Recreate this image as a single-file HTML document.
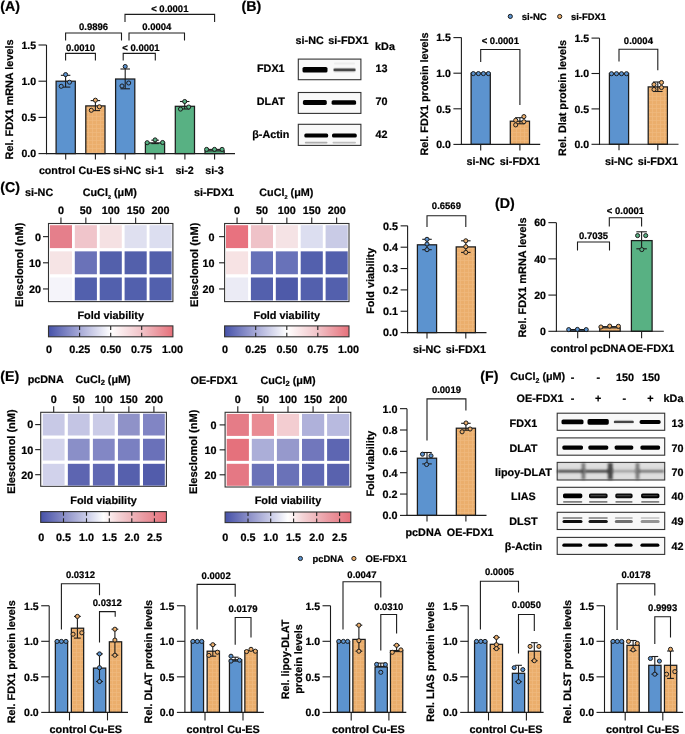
<!DOCTYPE html>
<html><head><meta charset="utf-8"><style>
html,body{margin:0;padding:0;background:#fff;width:685px;height:734px;overflow:hidden}
svg{display:block;font-family:"Liberation Sans",sans-serif;opacity:0.999;text-rendering:geometricPrecision}
text{stroke:#000;stroke-width:0.22px}
</style></head><body>
<svg width="685" height="734" viewBox="0 0 685 734">
<defs>
<pattern id="hatch" width="4" height="4" patternUnits="userSpaceOnUse">
<rect width="4" height="4" fill="#ebae6c"/>
<path d="M0 0.5H4M0.5 0V4" stroke="#efb97e" stroke-width="0.7"/>
</pattern>
<filter id="blur0" x="-20%" y="-100%" width="140%" height="300%"><feGaussianBlur stdDeviation="0.4"/></filter>
<filter id="blur1" x="-20%" y="-60%" width="140%" height="220%"><feGaussianBlur stdDeviation="0.6"/></filter>
<filter id="blur2" x="-20%" y="-50%" width="140%" height="200%"><feGaussianBlur stdDeviation="1.2"/></filter>
<linearGradient id="g1" x1="0" x2="1" y1="0" y2="0"><stop offset="0" stop-color="#4652a9"/><stop offset="0.25" stop-color="#a6a9d7"/><stop offset="0.5" stop-color="#ffffff"/><stop offset="0.75" stop-color="#f1c3c8"/><stop offset="1" stop-color="#e6707a"/></linearGradient><linearGradient id="g2" x1="0" x2="1" y1="0" y2="0"><stop offset="0" stop-color="#4652a9"/><stop offset="0.25" stop-color="#a6a9d7"/><stop offset="0.5" stop-color="#ffffff"/><stop offset="0.75" stop-color="#f1c3c8"/><stop offset="1" stop-color="#e6707a"/></linearGradient><linearGradient id="g3" x1="0" x2="1" y1="0" y2="0"><stop offset="0" stop-color="#4651a8"/><stop offset="0.2" stop-color="#8f93c9"/><stop offset="0.38" stop-color="#cfd1ea"/><stop offset="0.5" stop-color="#ffffff"/><stop offset="0.62" stop-color="#f4d3d6"/><stop offset="0.82" stop-color="#ea9aa2"/><stop offset="1" stop-color="#e6707a"/></linearGradient><linearGradient id="g4" x1="0" x2="1" y1="0" y2="0"><stop offset="0" stop-color="#4651a8"/><stop offset="0.2" stop-color="#8f93c9"/><stop offset="0.38" stop-color="#cfd1ea"/><stop offset="0.5" stop-color="#ffffff"/><stop offset="0.62" stop-color="#f4d3d6"/><stop offset="0.82" stop-color="#ea9aa2"/><stop offset="1" stop-color="#e6707a"/></linearGradient></defs>
<text x="0.2" y="11.11" font-size="14.2" text-anchor="start" font-weight="bold" fill="#000">(A)</text>
<line x1="46.5" y1="45" x2="46.5" y2="154.15" stroke="#1c1c1c" stroke-width="1.1"/>
<line x1="38.5" y1="45" x2="46.5" y2="45" stroke="#1c1c1c" stroke-width="1.1"/>
<text x="36" y="48.78" font-size="10.5" text-anchor="end" font-weight="bold" fill="#000">1.5</text>
<line x1="38.5" y1="81.2" x2="46.5" y2="81.2" stroke="#1c1c1c" stroke-width="1.1"/>
<text x="36" y="84.98" font-size="10.5" text-anchor="end" font-weight="bold" fill="#000">1.0</text>
<line x1="38.5" y1="117.4" x2="46.5" y2="117.4" stroke="#1c1c1c" stroke-width="1.1"/>
<text x="36" y="121.18" font-size="10.5" text-anchor="end" font-weight="bold" fill="#000">0.5</text>
<line x1="38.5" y1="153.6" x2="46.5" y2="153.6" stroke="#1c1c1c" stroke-width="1.1"/>
<text x="36" y="157.38" font-size="10.5" text-anchor="end" font-weight="bold" fill="#000">0.0</text>
<text transform="translate(8.9,99.4) rotate(-90)" x="0" y="3.92" font-size="10.9" text-anchor="middle" font-weight="bold" fill="#000">Rel. FDX1 mRNA levels</text>
<rect x="56.1" y="81.2" width="19.2" height="72.4" fill="#5c93cf" stroke="#1c1c1c" stroke-width="1.25"/>
<rect x="85.8" y="105.9" width="19.2" height="47.7" fill="url(#hatch)" stroke="#1c1c1c" stroke-width="1.25"/>
<rect x="115.6" y="79" width="19.2" height="74.6" fill="#5c93cf" stroke="#1c1c1c" stroke-width="1.25"/>
<rect x="145.4" y="142.9" width="19.2" height="10.7" fill="#58b183" stroke="#1c1c1c" stroke-width="1.25"/>
<rect x="175.3" y="106.3" width="19.2" height="47.3" fill="#58b183" stroke="#1c1c1c" stroke-width="1.25"/>
<rect x="205" y="150.8" width="19.2" height="2.8" fill="#58b183" stroke="#1c1c1c" stroke-width="1.25"/>
<line x1="45.95" y1="153.6" x2="235" y2="153.6" stroke="#1c1c1c" stroke-width="1.1"/>
<line x1="65.7" y1="153.6" x2="65.7" y2="159.6" stroke="#1c1c1c" stroke-width="1.1"/>
<line x1="95.4" y1="153.6" x2="95.4" y2="159.6" stroke="#1c1c1c" stroke-width="1.1"/>
<line x1="125.2" y1="153.6" x2="125.2" y2="159.6" stroke="#1c1c1c" stroke-width="1.1"/>
<line x1="155" y1="153.6" x2="155" y2="159.6" stroke="#1c1c1c" stroke-width="1.1"/>
<line x1="184.9" y1="153.6" x2="184.9" y2="159.6" stroke="#1c1c1c" stroke-width="1.1"/>
<line x1="214.6" y1="153.6" x2="214.6" y2="159.6" stroke="#1c1c1c" stroke-width="1.1"/>
<text x="57" y="173.85" font-size="10.7" text-anchor="middle" font-weight="bold" fill="#000">control</text>
<text x="94.6" y="173.85" font-size="10.7" text-anchor="middle" font-weight="bold" fill="#000">Cu-ES</text>
<text x="127.3" y="173.85" font-size="10.7" text-anchor="middle" font-weight="bold" fill="#000">si-NC</text>
<text x="154.4" y="173.85" font-size="10.7" text-anchor="middle" font-weight="bold" fill="#000">si-1</text>
<text x="184.6" y="173.85" font-size="10.7" text-anchor="middle" font-weight="bold" fill="#000">si-2</text>
<text x="214.5" y="173.85" font-size="10.7" text-anchor="middle" font-weight="bold" fill="#000">si-3</text>
<line x1="65.6" y1="75.3" x2="65.6" y2="87.1" stroke="#1c1c1c" stroke-width="1.1"/>
<line x1="60.85" y1="75.3" x2="70.35" y2="75.3" stroke="#1c1c1c" stroke-width="1.1"/>
<line x1="60.85" y1="87.1" x2="70.35" y2="87.1" stroke="#1c1c1c" stroke-width="1.1"/>
<circle cx="65.6" cy="74.6" r="2.05" fill="#5c93cf" stroke="#1c1c1c" stroke-width="1"/>
<circle cx="69.5" cy="82.2" r="2.05" fill="#5c93cf" stroke="#1c1c1c" stroke-width="1"/>
<circle cx="61.2" cy="86.3" r="2.05" fill="#5c93cf" stroke="#1c1c1c" stroke-width="1"/>
<line x1="95.4" y1="100.6" x2="95.4" y2="110.6" stroke="#1c1c1c" stroke-width="1.1"/>
<line x1="90.65" y1="100.6" x2="100.15" y2="100.6" stroke="#1c1c1c" stroke-width="1.1"/>
<line x1="90.65" y1="110.6" x2="100.15" y2="110.6" stroke="#1c1c1c" stroke-width="1.1"/>
<circle cx="95.4" cy="100.2" r="2.05" fill="#ebae6c" stroke="#1c1c1c" stroke-width="1"/>
<circle cx="99.4" cy="106.8" r="2.05" fill="#ebae6c" stroke="#1c1c1c" stroke-width="1"/>
<circle cx="91.3" cy="110.3" r="2.05" fill="#ebae6c" stroke="#1c1c1c" stroke-width="1"/>
<line x1="125.2" y1="69" x2="125.2" y2="88.8" stroke="#1c1c1c" stroke-width="1.1"/>
<line x1="120.45" y1="69" x2="129.95" y2="69" stroke="#1c1c1c" stroke-width="1.1"/>
<line x1="120.45" y1="88.8" x2="129.95" y2="88.8" stroke="#1c1c1c" stroke-width="1.1"/>
<circle cx="125.2" cy="66.5" r="2.05" fill="#5c93cf" stroke="#1c1c1c" stroke-width="1"/>
<circle cx="128.7" cy="83" r="2.05" fill="#5c93cf" stroke="#1c1c1c" stroke-width="1"/>
<circle cx="122" cy="86" r="2.05" fill="#5c93cf" stroke="#1c1c1c" stroke-width="1"/>
<line x1="155.1" y1="140.2" x2="155.1" y2="143.6" stroke="#1c1c1c" stroke-width="1.1"/>
<line x1="151.35" y1="140.2" x2="158.85" y2="140.2" stroke="#1c1c1c" stroke-width="1.1"/>
<line x1="151.35" y1="143.6" x2="158.85" y2="143.6" stroke="#1c1c1c" stroke-width="1.1"/>
<circle cx="155.1" cy="139.9" r="2.05" fill="#58b183" stroke="#1c1c1c" stroke-width="1"/>
<circle cx="162.6" cy="142.5" r="2.05" fill="#58b183" stroke="#1c1c1c" stroke-width="1"/>
<circle cx="147.2" cy="142.7" r="2.05" fill="#58b183" stroke="#1c1c1c" stroke-width="1"/>
<line x1="184.7" y1="101.5" x2="184.7" y2="109" stroke="#1c1c1c" stroke-width="1.1"/>
<line x1="179.95" y1="101.5" x2="189.45" y2="101.5" stroke="#1c1c1c" stroke-width="1.1"/>
<line x1="179.95" y1="109" x2="189.45" y2="109" stroke="#1c1c1c" stroke-width="1.1"/>
<circle cx="184.7" cy="101.5" r="2.05" fill="#58b183" stroke="#1c1c1c" stroke-width="1"/>
<circle cx="180.5" cy="109.1" r="2.05" fill="#58b183" stroke="#1c1c1c" stroke-width="1"/>
<circle cx="188.7" cy="107" r="2.05" fill="#58b183" stroke="#1c1c1c" stroke-width="1"/>
<line x1="206.6" y1="149.4" x2="222.1" y2="149.4" stroke="#1c1c1c" stroke-width="1.1"/>
<circle cx="206.6" cy="149.4" r="2.05" fill="#58b183" stroke="#1c1c1c" stroke-width="1"/>
<circle cx="214.5" cy="149.4" r="2.05" fill="#58b183" stroke="#1c1c1c" stroke-width="1"/>
<circle cx="222.1" cy="149.4" r="2.05" fill="#58b183" stroke="#1c1c1c" stroke-width="1"/>
<path d="M65.6 60.4 V53.4 H95.4 V60.4" stroke="#1c1c1c" stroke-width="1.1" fill="none"/>
<text x="80.5" y="50.72" font-size="9.5" text-anchor="middle" font-weight="bold" fill="#000">0.0010</text>
<path d="M65.6 40.6 V33 H121.5 V40.6" stroke="#1c1c1c" stroke-width="1.1" fill="none"/>
<text x="93.55" y="30.32" font-size="9.5" text-anchor="middle" font-weight="bold" fill="#000">0.9896</text>
<path d="M123.2 60.4 V53.4 H155.3 V60.4" stroke="#1c1c1c" stroke-width="1.1" fill="none"/>
<text x="140.9" y="50.72" font-size="9.5" text-anchor="middle" font-weight="bold" fill="#000">&lt; 0.0001</text>
<path d="M129 40.6 V33 H184.5 V40.6" stroke="#1c1c1c" stroke-width="1.1" fill="none"/>
<text x="156.75" y="30.32" font-size="9.5" text-anchor="middle" font-weight="bold" fill="#000">0.0004</text>
<path d="M125 22 V14.4 H214.6 V22" stroke="#1c1c1c" stroke-width="1.1" fill="none"/>
<text x="169.8" y="11.62" font-size="9.5" text-anchor="middle" font-weight="bold" fill="#000">&lt; 0.0001</text>
<text x="241.6" y="11.31" font-size="14.2" text-anchor="start" font-weight="bold" fill="#000">(B)</text>
<text x="309.7" y="44.39" font-size="10.8" text-anchor="middle" font-weight="bold" fill="#000">si-NC</text>
<text x="348.4" y="44.39" font-size="10.8" text-anchor="middle" font-weight="bold" fill="#000">si-FDX1</text>
<text x="385" y="50.49" font-size="10.8" text-anchor="middle" font-weight="bold" fill="#000">kDa</text>
<text x="270.8" y="72.39" font-size="10.8" text-anchor="middle" font-weight="bold" fill="#000">FDX1</text>
<text x="381.6" y="72.39" font-size="10.8" text-anchor="middle" font-weight="bold" fill="#000">13</text>
<text x="270.8" y="104.89" font-size="10.8" text-anchor="middle" font-weight="bold" fill="#000">DLAT</text>
<text x="381.6" y="104.89" font-size="10.8" text-anchor="middle" font-weight="bold" fill="#000">70</text>
<text x="270.8" y="137.99" font-size="10.8" text-anchor="middle" font-weight="bold" fill="#000">&#946;-Actin</text>
<text x="381.6" y="137.99" font-size="10.8" text-anchor="middle" font-weight="bold" fill="#000">42</text>
<rect x="298.3" y="59.1" width="62.6" height="20.6" fill="#f9f9f9" stroke="#333" stroke-width="1.1"/>
<rect x="302.5" y="67" width="25" height="5.6" rx="1.6" fill="#000" opacity="1" filter="url(#blur1)"/>
<rect x="333" y="67.4" width="23" height="5" rx="1.6" fill="#666" opacity="0.18" filter="url(#blur1)"/>
<rect x="333.5" y="68.6" width="22.1" height="2.6" rx="1.3" fill="#222" opacity="0.8" filter="url(#blur1)"/>
<rect x="334" y="62.5" width="21" height="2" rx="1" fill="#999" opacity="0.12" filter="url(#blur1)"/>
<rect x="298.3" y="92.5" width="62.6" height="20.9" fill="#f9f9f9" stroke="#333" stroke-width="1.1"/>
<rect x="302.9" y="100.1" width="23.9" height="4.8" rx="1.6" fill="#000" opacity="1" filter="url(#blur1)"/>
<rect x="331.6" y="100.2" width="24.5" height="4.6" rx="1.6" fill="#000" opacity="1" filter="url(#blur1)"/>
<rect x="298.3" y="124.3" width="62.6" height="21.1" fill="#f9f9f9" stroke="#333" stroke-width="1.1"/>
<rect x="304.3" y="133.6" width="23.9" height="4" rx="1.6" fill="#000" opacity="1" filter="url(#blur1)"/>
<rect x="332" y="133.6" width="24.8" height="4" rx="1.6" fill="#000" opacity="1" filter="url(#blur1)"/>
<rect x="304.8" y="141.7" width="22.7" height="1.8" rx="0.9" fill="#555" opacity="0.45" filter="url(#blur1)"/>
<rect x="332.5" y="141.7" width="23.5" height="1.8" rx="0.9" fill="#555" opacity="0.35" filter="url(#blur1)"/>
<circle cx="510.3" cy="16.4" r="2.1" fill="#5c93cf" stroke="#1c1c1c" stroke-width="1"/>
<text x="521.7" y="19.86" font-size="9.6" text-anchor="start" font-weight="bold" fill="#000">si-NC</text>
<circle cx="559.7" cy="16.5" r="2.1" fill="#ebae6c" stroke="#1c1c1c" stroke-width="1"/>
<text x="571" y="19.88" font-size="9.4" text-anchor="start" font-weight="bold" fill="#000">si-FDX1</text>
<line x1="461.4" y1="37.6" x2="461.4" y2="144.95" stroke="#1c1c1c" stroke-width="1.1"/>
<line x1="453.4" y1="37.6" x2="461.4" y2="37.6" stroke="#1c1c1c" stroke-width="1.1"/>
<text x="450.9" y="41.38" font-size="10.5" text-anchor="end" font-weight="bold" fill="#000">1.5</text>
<line x1="453.4" y1="73.2" x2="461.4" y2="73.2" stroke="#1c1c1c" stroke-width="1.1"/>
<text x="450.9" y="76.98" font-size="10.5" text-anchor="end" font-weight="bold" fill="#000">1.0</text>
<line x1="453.4" y1="108.8" x2="461.4" y2="108.8" stroke="#1c1c1c" stroke-width="1.1"/>
<text x="450.9" y="112.58" font-size="10.5" text-anchor="end" font-weight="bold" fill="#000">0.5</text>
<line x1="453.4" y1="144.4" x2="461.4" y2="144.4" stroke="#1c1c1c" stroke-width="1.1"/>
<text x="450.9" y="148.18" font-size="10.5" text-anchor="end" font-weight="bold" fill="#000">0.0</text>
<text transform="translate(423.8,94) rotate(-90)" x="0" y="3.89" font-size="10.8" text-anchor="middle" font-weight="bold" fill="#000">Rel. FDX1 protein levels</text>
<rect x="471.1" y="73.2" width="19.2" height="71.2" fill="#5c93cf" stroke="#1c1c1c" stroke-width="1.25"/>
<rect x="510.3" y="121.2" width="19.2" height="23.2" fill="url(#hatch)" stroke="#1c1c1c" stroke-width="1.25"/>
<line x1="460.85" y1="144.4" x2="540.2" y2="144.4" stroke="#1c1c1c" stroke-width="1.1"/>
<line x1="480.7" y1="144.4" x2="480.7" y2="150.4" stroke="#1c1c1c" stroke-width="1.1"/>
<line x1="519.9" y1="144.4" x2="519.9" y2="150.4" stroke="#1c1c1c" stroke-width="1.1"/>
<text x="480.7" y="164.89" font-size="10.8" text-anchor="middle" font-weight="bold" fill="#000">si-NC</text>
<text x="519.9" y="164.89" font-size="10.8" text-anchor="middle" font-weight="bold" fill="#000">si-FDX1</text>
<circle cx="473.3" cy="73.6" r="2.05" fill="#5c93cf" stroke="#1c1c1c" stroke-width="1"/>
<circle cx="478.4" cy="73.6" r="2.05" fill="#5c93cf" stroke="#1c1c1c" stroke-width="1"/>
<circle cx="483.4" cy="73.6" r="2.05" fill="#5c93cf" stroke="#1c1c1c" stroke-width="1"/>
<circle cx="488.4" cy="73.6" r="2.05" fill="#5c93cf" stroke="#1c1c1c" stroke-width="1"/>
<line x1="519.9" y1="117.7" x2="519.9" y2="123.8" stroke="#1c1c1c" stroke-width="1.1"/>
<line x1="515.15" y1="117.7" x2="524.65" y2="117.7" stroke="#1c1c1c" stroke-width="1.1"/>
<line x1="515.15" y1="123.8" x2="524.65" y2="123.8" stroke="#1c1c1c" stroke-width="1.1"/>
<circle cx="515.7" cy="120.3" r="2.05" fill="#ebae6c" stroke="#1c1c1c" stroke-width="1"/>
<circle cx="515.7" cy="124.9" r="2.05" fill="#ebae6c" stroke="#1c1c1c" stroke-width="1"/>
<circle cx="523.9" cy="116.6" r="2.05" fill="#ebae6c" stroke="#1c1c1c" stroke-width="1"/>
<circle cx="523.9" cy="121.7" r="2.05" fill="#ebae6c" stroke="#1c1c1c" stroke-width="1"/>
<path d="M480.7 61.9 V49.5 H519.9 V105.1" stroke="#1c1c1c" stroke-width="1.1" fill="none"/>
<text x="500.3" y="44.32" font-size="9.5" text-anchor="middle" font-weight="bold" fill="#000">&lt; 0.0001</text>
<line x1="599.5" y1="38.1" x2="599.5" y2="144.85" stroke="#1c1c1c" stroke-width="1.1"/>
<line x1="591.5" y1="38.1" x2="599.5" y2="38.1" stroke="#1c1c1c" stroke-width="1.1"/>
<text x="589" y="41.88" font-size="10.5" text-anchor="end" font-weight="bold" fill="#000">1.5</text>
<line x1="591.5" y1="73.5" x2="599.5" y2="73.5" stroke="#1c1c1c" stroke-width="1.1"/>
<text x="589" y="77.28" font-size="10.5" text-anchor="end" font-weight="bold" fill="#000">1.0</text>
<line x1="591.5" y1="108.9" x2="599.5" y2="108.9" stroke="#1c1c1c" stroke-width="1.1"/>
<text x="589" y="112.68" font-size="10.5" text-anchor="end" font-weight="bold" fill="#000">0.5</text>
<line x1="591.5" y1="144.3" x2="599.5" y2="144.3" stroke="#1c1c1c" stroke-width="1.1"/>
<text x="589" y="148.08" font-size="10.5" text-anchor="end" font-weight="bold" fill="#000">0.0</text>
<text transform="translate(562.5,98) rotate(-90)" x="0" y="3.89" font-size="10.8" text-anchor="middle" font-weight="bold" fill="#000">Rel. Dlat protein levels</text>
<rect x="609.4" y="73.5" width="19.2" height="70.8" fill="#5c93cf" stroke="#1c1c1c" stroke-width="1.25"/>
<rect x="648.2" y="86.9" width="19.2" height="57.4" fill="url(#hatch)" stroke="#1c1c1c" stroke-width="1.25"/>
<line x1="598.95" y1="144.3" x2="678.5" y2="144.3" stroke="#1c1c1c" stroke-width="1.1"/>
<line x1="619" y1="144.3" x2="619" y2="150.3" stroke="#1c1c1c" stroke-width="1.1"/>
<line x1="657.8" y1="144.3" x2="657.8" y2="150.3" stroke="#1c1c1c" stroke-width="1.1"/>
<text x="619" y="164.89" font-size="10.8" text-anchor="middle" font-weight="bold" fill="#000">si-NC</text>
<text x="657.8" y="164.89" font-size="10.8" text-anchor="middle" font-weight="bold" fill="#000">si-FDX1</text>
<circle cx="611.5" cy="73.7" r="2.05" fill="#5c93cf" stroke="#1c1c1c" stroke-width="1"/>
<circle cx="616.5" cy="73.7" r="2.05" fill="#5c93cf" stroke="#1c1c1c" stroke-width="1"/>
<circle cx="621.5" cy="73.7" r="2.05" fill="#5c93cf" stroke="#1c1c1c" stroke-width="1"/>
<circle cx="626.5" cy="73.7" r="2.05" fill="#5c93cf" stroke="#1c1c1c" stroke-width="1"/>
<line x1="657.8" y1="82" x2="657.8" y2="91.5" stroke="#1c1c1c" stroke-width="1.1"/>
<line x1="653.05" y1="82" x2="662.55" y2="82" stroke="#1c1c1c" stroke-width="1.1"/>
<line x1="653.05" y1="91.5" x2="662.55" y2="91.5" stroke="#1c1c1c" stroke-width="1.1"/>
<circle cx="654" cy="84.5" r="2.05" fill="#ebae6c" stroke="#1c1c1c" stroke-width="1"/>
<circle cx="654" cy="89.5" r="2.05" fill="#ebae6c" stroke="#1c1c1c" stroke-width="1"/>
<circle cx="661.5" cy="82.5" r="2.05" fill="#ebae6c" stroke="#1c1c1c" stroke-width="1"/>
<circle cx="661.5" cy="87.5" r="2.05" fill="#ebae6c" stroke="#1c1c1c" stroke-width="1"/>
<path d="M619 61.4 V49.3 H657.8 V70.2" stroke="#1c1c1c" stroke-width="1.1" fill="none"/>
<text x="638.4" y="44.42" font-size="9.5" text-anchor="middle" font-weight="bold" fill="#000">0.0004</text>
<text x="0.3" y="191.61" font-size="14.2" text-anchor="start" font-weight="bold" fill="#000">(C)</text>
<text x="39.1" y="196.19" font-size="10.8" text-anchor="middle" font-weight="bold" fill="#000">si-NC</text>
<text x="82.7" y="196.19" font-size="10.8" text-anchor="start" font-weight="bold" fill="#000">CuCl<tspan font-size="5.5" dy="2.5">2</tspan><tspan dy="-2.5"> (&#956;M)</tspan></text>
<rect x="48.5" y="223.5" width="124.4" height="78.1" fill="#fff" stroke="#333" stroke-width="1.1"/>
<rect x="49.9" y="225.2" width="22.1" height="22.9" fill="#e57f8b" stroke="none" stroke-width="0"/>
<rect x="74.8" y="225.2" width="22.1" height="22.9" fill="#f0c5cb" stroke="none" stroke-width="0"/>
<rect x="99.7" y="225.2" width="22.1" height="22.9" fill="#f5e1e3" stroke="none" stroke-width="0"/>
<rect x="124.6" y="225.2" width="22.1" height="22.9" fill="#dfe0f0" stroke="none" stroke-width="0"/>
<rect x="149.5" y="225.2" width="22.1" height="22.9" fill="#dcdef0" stroke="none" stroke-width="0"/>
<rect x="49.9" y="251.35" width="22.1" height="22.9" fill="#f6e4e5" stroke="none" stroke-width="0"/>
<rect x="74.8" y="251.35" width="22.1" height="22.9" fill="#6a72b8" stroke="none" stroke-width="0"/>
<rect x="99.7" y="251.35" width="22.1" height="22.9" fill="#5360ab" stroke="none" stroke-width="0"/>
<rect x="124.6" y="251.35" width="22.1" height="22.9" fill="#5360ab" stroke="none" stroke-width="0"/>
<rect x="149.5" y="251.35" width="22.1" height="22.9" fill="#5360ab" stroke="none" stroke-width="0"/>
<rect x="49.9" y="277.5" width="22.1" height="22.9" fill="#f5f4fa" stroke="none" stroke-width="0"/>
<rect x="74.8" y="277.5" width="22.1" height="22.9" fill="#5260ad" stroke="none" stroke-width="0"/>
<rect x="99.7" y="277.5" width="22.1" height="22.9" fill="#5260ad" stroke="none" stroke-width="0"/>
<rect x="124.6" y="277.5" width="22.1" height="22.9" fill="#5260ad" stroke="none" stroke-width="0"/>
<rect x="149.5" y="277.5" width="22.1" height="22.9" fill="#5260ad" stroke="none" stroke-width="0"/>
<line x1="60.95" y1="217.5" x2="60.95" y2="223.5" stroke="#1c1c1c" stroke-width="1.1"/>
<text x="60.95" y="214.09" font-size="10.8" text-anchor="middle" font-weight="bold" fill="#000">0</text>
<line x1="85.85" y1="217.5" x2="85.85" y2="223.5" stroke="#1c1c1c" stroke-width="1.1"/>
<text x="85.85" y="214.09" font-size="10.8" text-anchor="middle" font-weight="bold" fill="#000">50</text>
<line x1="110.75" y1="217.5" x2="110.75" y2="223.5" stroke="#1c1c1c" stroke-width="1.1"/>
<text x="110.75" y="214.09" font-size="10.8" text-anchor="middle" font-weight="bold" fill="#000">100</text>
<line x1="135.65" y1="217.5" x2="135.65" y2="223.5" stroke="#1c1c1c" stroke-width="1.1"/>
<text x="135.65" y="214.09" font-size="10.8" text-anchor="middle" font-weight="bold" fill="#000">150</text>
<line x1="160.55" y1="217.5" x2="160.55" y2="223.5" stroke="#1c1c1c" stroke-width="1.1"/>
<text x="160.55" y="214.09" font-size="10.8" text-anchor="middle" font-weight="bold" fill="#000">200</text>
<line x1="43" y1="236.65" x2="48.5" y2="236.65" stroke="#1c1c1c" stroke-width="1.1"/>
<text x="41" y="240.54" font-size="10.8" text-anchor="end" font-weight="bold" fill="#000">0</text>
<line x1="43" y1="262.8" x2="48.5" y2="262.8" stroke="#1c1c1c" stroke-width="1.1"/>
<text x="41" y="266.69" font-size="10.8" text-anchor="end" font-weight="bold" fill="#000">10</text>
<line x1="43" y1="288.95" x2="48.5" y2="288.95" stroke="#1c1c1c" stroke-width="1.1"/>
<text x="41" y="292.84" font-size="10.8" text-anchor="end" font-weight="bold" fill="#000">20</text>
<text transform="translate(19.4,264.75) rotate(-90)" x="0" y="3.96" font-size="11" text-anchor="middle" font-weight="bold" fill="#000">Elesclomol (nM)</text>
<text x="110.7" y="319.42" font-size="10.9" text-anchor="middle" font-weight="bold" fill="#000">Fold viability</text>
<rect x="48.5" y="325.9" width="124.4" height="10.9" fill="url(#g1)" stroke="#333" stroke-width="1.1"/>
<line x1="79.6" y1="325.9" x2="79.6" y2="336.8" stroke="#222" stroke-width="1.1" stroke-dasharray="4.14 2.62"/>
<line x1="110.7" y1="325.9" x2="110.7" y2="336.8" stroke="#222" stroke-width="1.1" stroke-dasharray="4.14 2.62"/>
<line x1="141.7" y1="325.9" x2="141.7" y2="336.8" stroke="#222" stroke-width="1.1" stroke-dasharray="4.14 2.62"/>
<text x="49" y="353.29" font-size="10.8" text-anchor="middle" font-weight="bold" fill="#000">0</text>
<text x="79.7" y="353.29" font-size="10.8" text-anchor="middle" font-weight="bold" fill="#000">0.25</text>
<text x="110.8" y="353.29" font-size="10.8" text-anchor="middle" font-weight="bold" fill="#000">0.50</text>
<text x="141.6" y="353.29" font-size="10.8" text-anchor="middle" font-weight="bold" fill="#000">0.75</text>
<text x="172.4" y="353.29" font-size="10.8" text-anchor="middle" font-weight="bold" fill="#000">1.00</text>
<text x="214" y="196.19" font-size="10.8" text-anchor="middle" font-weight="bold" fill="#000">si-FDX1</text>
<text x="259.3" y="196.19" font-size="10.8" text-anchor="start" font-weight="bold" fill="#000">CuCl<tspan font-size="5.5" dy="2.5">2</tspan><tspan dy="-2.5"> (&#956;M)</tspan></text>
<rect x="224.6" y="223.5" width="124.4" height="78.1" fill="#fff" stroke="#333" stroke-width="1.1"/>
<rect x="226" y="225.2" width="22.1" height="22.9" fill="#e8727f" stroke="none" stroke-width="0"/>
<rect x="250.9" y="225.2" width="22.1" height="22.9" fill="#efc2c8" stroke="none" stroke-width="0"/>
<rect x="275.8" y="225.2" width="22.1" height="22.9" fill="#f5e3e5" stroke="none" stroke-width="0"/>
<rect x="300.7" y="225.2" width="22.1" height="22.9" fill="#dcdef0" stroke="none" stroke-width="0"/>
<rect x="325.6" y="225.2" width="22.1" height="22.9" fill="#c9cbe6" stroke="none" stroke-width="0"/>
<rect x="226" y="251.35" width="22.1" height="22.9" fill="#f7e3e4" stroke="none" stroke-width="0"/>
<rect x="250.9" y="251.35" width="22.1" height="22.9" fill="#6570b8" stroke="none" stroke-width="0"/>
<rect x="275.8" y="251.35" width="22.1" height="22.9" fill="#6872b9" stroke="none" stroke-width="0"/>
<rect x="300.7" y="251.35" width="22.1" height="22.9" fill="#5360ad" stroke="none" stroke-width="0"/>
<rect x="325.6" y="251.35" width="22.1" height="22.9" fill="#5360ad" stroke="none" stroke-width="0"/>
<rect x="226" y="277.5" width="22.1" height="22.9" fill="#ebebf5" stroke="none" stroke-width="0"/>
<rect x="250.9" y="277.5" width="22.1" height="22.9" fill="#5360ad" stroke="none" stroke-width="0"/>
<rect x="275.8" y="277.5" width="22.1" height="22.9" fill="#4e5aa9" stroke="none" stroke-width="0"/>
<rect x="300.7" y="277.5" width="22.1" height="22.9" fill="#5360ad" stroke="none" stroke-width="0"/>
<rect x="325.6" y="277.5" width="22.1" height="22.9" fill="#5360ad" stroke="none" stroke-width="0"/>
<line x1="237.05" y1="217.5" x2="237.05" y2="223.5" stroke="#1c1c1c" stroke-width="1.1"/>
<text x="237.05" y="214.09" font-size="10.8" text-anchor="middle" font-weight="bold" fill="#000">0</text>
<line x1="261.95" y1="217.5" x2="261.95" y2="223.5" stroke="#1c1c1c" stroke-width="1.1"/>
<text x="261.95" y="214.09" font-size="10.8" text-anchor="middle" font-weight="bold" fill="#000">50</text>
<line x1="286.85" y1="217.5" x2="286.85" y2="223.5" stroke="#1c1c1c" stroke-width="1.1"/>
<text x="286.85" y="214.09" font-size="10.8" text-anchor="middle" font-weight="bold" fill="#000">100</text>
<line x1="311.75" y1="217.5" x2="311.75" y2="223.5" stroke="#1c1c1c" stroke-width="1.1"/>
<text x="311.75" y="214.09" font-size="10.8" text-anchor="middle" font-weight="bold" fill="#000">150</text>
<line x1="336.65" y1="217.5" x2="336.65" y2="223.5" stroke="#1c1c1c" stroke-width="1.1"/>
<text x="336.65" y="214.09" font-size="10.8" text-anchor="middle" font-weight="bold" fill="#000">200</text>
<line x1="219.1" y1="236.65" x2="224.6" y2="236.65" stroke="#1c1c1c" stroke-width="1.1"/>
<text x="214.4" y="240.54" font-size="10.8" text-anchor="end" font-weight="bold" fill="#000">0</text>
<line x1="219.1" y1="262.8" x2="224.6" y2="262.8" stroke="#1c1c1c" stroke-width="1.1"/>
<text x="214.4" y="266.69" font-size="10.8" text-anchor="end" font-weight="bold" fill="#000">10</text>
<line x1="219.1" y1="288.95" x2="224.6" y2="288.95" stroke="#1c1c1c" stroke-width="1.1"/>
<text x="214.4" y="292.84" font-size="10.8" text-anchor="end" font-weight="bold" fill="#000">20</text>
<text transform="translate(193.6,264.75) rotate(-90)" x="0" y="3.96" font-size="11" text-anchor="middle" font-weight="bold" fill="#000">Elesclomol (nM)</text>
<text x="286.8" y="319.42" font-size="10.9" text-anchor="middle" font-weight="bold" fill="#000">Fold viability</text>
<rect x="224.6" y="325.9" width="124.4" height="10.9" fill="url(#g2)" stroke="#333" stroke-width="1.1"/>
<line x1="255.7" y1="325.9" x2="255.7" y2="336.8" stroke="#222" stroke-width="1.1" stroke-dasharray="4.14 2.62"/>
<line x1="286.8" y1="325.9" x2="286.8" y2="336.8" stroke="#222" stroke-width="1.1" stroke-dasharray="4.14 2.62"/>
<line x1="317.8" y1="325.9" x2="317.8" y2="336.8" stroke="#222" stroke-width="1.1" stroke-dasharray="4.14 2.62"/>
<text x="225.1" y="353.29" font-size="10.8" text-anchor="middle" font-weight="bold" fill="#000">0</text>
<text x="255.8" y="353.29" font-size="10.8" text-anchor="middle" font-weight="bold" fill="#000">0.25</text>
<text x="286.9" y="353.29" font-size="10.8" text-anchor="middle" font-weight="bold" fill="#000">0.50</text>
<text x="317.7" y="353.29" font-size="10.8" text-anchor="middle" font-weight="bold" fill="#000">0.75</text>
<text x="348.5" y="353.29" font-size="10.8" text-anchor="middle" font-weight="bold" fill="#000">1.00</text>
<line x1="407.6" y1="225.85" x2="407.6" y2="333.15" stroke="#1c1c1c" stroke-width="1.1"/>
<line x1="400.6" y1="225.85" x2="407.6" y2="225.85" stroke="#1c1c1c" stroke-width="1.1"/>
<text x="398.1" y="229.74" font-size="10.8" text-anchor="end" font-weight="bold" fill="#000">0.5</text>
<line x1="400.6" y1="247.2" x2="407.6" y2="247.2" stroke="#1c1c1c" stroke-width="1.1"/>
<text x="398.1" y="251.09" font-size="10.8" text-anchor="end" font-weight="bold" fill="#000">0.4</text>
<line x1="400.6" y1="268.55" x2="407.6" y2="268.55" stroke="#1c1c1c" stroke-width="1.1"/>
<text x="398.1" y="272.44" font-size="10.8" text-anchor="end" font-weight="bold" fill="#000">0.3</text>
<line x1="400.6" y1="289.9" x2="407.6" y2="289.9" stroke="#1c1c1c" stroke-width="1.1"/>
<text x="398.1" y="293.79" font-size="10.8" text-anchor="end" font-weight="bold" fill="#000">0.2</text>
<line x1="400.6" y1="311.25" x2="407.6" y2="311.25" stroke="#1c1c1c" stroke-width="1.1"/>
<text x="398.1" y="315.14" font-size="10.8" text-anchor="end" font-weight="bold" fill="#000">0.1</text>
<line x1="400.6" y1="332.6" x2="407.6" y2="332.6" stroke="#1c1c1c" stroke-width="1.1"/>
<text x="398.1" y="336.49" font-size="10.8" text-anchor="end" font-weight="bold" fill="#000">0.0</text>
<text transform="translate(370,280.83) rotate(-90)" x="0" y="3.89" font-size="10.8" text-anchor="middle" font-weight="bold" fill="#000">Fold viability</text>
<rect x="417.4" y="244.8" width="19.2" height="87.8" fill="#5c93cf" stroke="#1c1c1c" stroke-width="1.25"/>
<rect x="456.2" y="246.9" width="19.2" height="85.7" fill="url(#hatch)" stroke="#1c1c1c" stroke-width="1.25"/>
<line x1="407.05" y1="332.6" x2="486.5" y2="332.6" stroke="#1c1c1c" stroke-width="1.1"/>
<line x1="427" y1="332.6" x2="427" y2="338.6" stroke="#1c1c1c" stroke-width="1.1"/>
<line x1="465.8" y1="332.6" x2="465.8" y2="338.6" stroke="#1c1c1c" stroke-width="1.1"/>
<text x="427" y="352.59" font-size="10.8" text-anchor="middle" font-weight="bold" fill="#000">si-NC</text>
<text x="465.8" y="352.59" font-size="10.8" text-anchor="middle" font-weight="bold" fill="#000">si-FDX1</text>
<line x1="427" y1="239.3" x2="427" y2="249.7" stroke="#1c1c1c" stroke-width="1.1"/>
<line x1="422.25" y1="239.3" x2="431.75" y2="239.3" stroke="#1c1c1c" stroke-width="1.1"/>
<line x1="422.25" y1="249.7" x2="431.75" y2="249.7" stroke="#1c1c1c" stroke-width="1.1"/>
<circle cx="427" cy="239.3" r="2.05" fill="#5c93cf" stroke="#1c1c1c" stroke-width="1"/>
<circle cx="427" cy="244" r="2.05" fill="#5c93cf" stroke="#1c1c1c" stroke-width="1"/>
<circle cx="427" cy="249.7" r="2.05" fill="#5c93cf" stroke="#1c1c1c" stroke-width="1"/>
<line x1="465.8" y1="240.8" x2="465.8" y2="252.4" stroke="#1c1c1c" stroke-width="1.1"/>
<line x1="461.05" y1="240.8" x2="470.55" y2="240.8" stroke="#1c1c1c" stroke-width="1.1"/>
<line x1="461.05" y1="252.4" x2="470.55" y2="252.4" stroke="#1c1c1c" stroke-width="1.1"/>
<circle cx="465.8" cy="240.8" r="2.05" fill="#ebae6c" stroke="#1c1c1c" stroke-width="1"/>
<circle cx="465.8" cy="246.7" r="2.05" fill="#ebae6c" stroke="#1c1c1c" stroke-width="1"/>
<circle cx="465.8" cy="252.4" r="2.05" fill="#ebae6c" stroke="#1c1c1c" stroke-width="1"/>
<path d="M427 227 V215.8 H465.8 V227" stroke="#1c1c1c" stroke-width="1.1" fill="none"/>
<text x="446.4" y="209.12" font-size="9.5" text-anchor="middle" font-weight="bold" fill="#000">0.6569</text>
<text x="495" y="207.51" font-size="14.2" text-anchor="start" font-weight="bold" fill="#000">(D)</text>
<line x1="556.4" y1="222.64" x2="556.4" y2="331.85" stroke="#1c1c1c" stroke-width="1.1"/>
<line x1="548.4" y1="222.64" x2="556.4" y2="222.64" stroke="#1c1c1c" stroke-width="1.1"/>
<text x="545.9" y="226.42" font-size="10.5" text-anchor="end" font-weight="bold" fill="#000">60</text>
<line x1="548.4" y1="258.86" x2="556.4" y2="258.86" stroke="#1c1c1c" stroke-width="1.1"/>
<text x="545.9" y="262.64" font-size="10.5" text-anchor="end" font-weight="bold" fill="#000">40</text>
<line x1="548.4" y1="295.08" x2="556.4" y2="295.08" stroke="#1c1c1c" stroke-width="1.1"/>
<text x="545.9" y="298.86" font-size="10.5" text-anchor="end" font-weight="bold" fill="#000">20</text>
<line x1="548.4" y1="331.3" x2="556.4" y2="331.3" stroke="#1c1c1c" stroke-width="1.1"/>
<text x="545.9" y="335.08" font-size="10.5" text-anchor="end" font-weight="bold" fill="#000">0</text>
<text transform="translate(521.9,277.5) rotate(-90)" x="0" y="3.92" font-size="10.9" text-anchor="middle" font-weight="bold" fill="#000">Rel. FDX1 mRNA levels</text>
<rect x="567.8" y="329.6" width="19.8" height="1.7" fill="#5c93cf" stroke="#1c1c1c" stroke-width="1.25"/>
<rect x="599.7" y="327.8" width="20.5" height="3.5" fill="url(#hatch)" stroke="#1c1c1c" stroke-width="1.25"/>
<rect x="631.4" y="240.6" width="20.7" height="90.7" fill="#58b183" stroke="#1c1c1c" stroke-width="1.25"/>
<line x1="555.85" y1="331.3" x2="663.8" y2="331.3" stroke="#1c1c1c" stroke-width="1.1"/>
<line x1="577.7" y1="331.3" x2="577.7" y2="338.3" stroke="#1c1c1c" stroke-width="1.1"/>
<line x1="609.5" y1="331.3" x2="609.5" y2="338.3" stroke="#1c1c1c" stroke-width="1.1"/>
<line x1="641.6" y1="331.3" x2="641.6" y2="338.3" stroke="#1c1c1c" stroke-width="1.1"/>
<text x="569" y="352.02" font-size="10.9" text-anchor="middle" font-weight="bold" fill="#000">control</text>
<text x="608.2" y="352.02" font-size="10.9" text-anchor="middle" font-weight="bold" fill="#000">pcDNA</text>
<text x="650.8" y="352.02" font-size="10.9" text-anchor="middle" font-weight="bold" fill="#000">OE-FDX1</text>
<line x1="568.7" y1="329.6" x2="586.2" y2="329.6" stroke="#1c1c1c" stroke-width="1.1"/>
<circle cx="568.7" cy="329.6" r="2.05" fill="#5c93cf" stroke="#1c1c1c" stroke-width="1"/>
<circle cx="577.4" cy="329.4" r="2.05" fill="#5c93cf" stroke="#1c1c1c" stroke-width="1"/>
<circle cx="586.2" cy="329.6" r="2.05" fill="#5c93cf" stroke="#1c1c1c" stroke-width="1"/>
<line x1="600.9" y1="326.6" x2="618.4" y2="326.6" stroke="#1c1c1c" stroke-width="1.1"/>
<circle cx="600.9" cy="327" r="2.05" fill="#ebae6c" stroke="#1c1c1c" stroke-width="1"/>
<circle cx="609.7" cy="326.1" r="2.05" fill="#ebae6c" stroke="#1c1c1c" stroke-width="1"/>
<circle cx="618.4" cy="326.3" r="2.05" fill="#ebae6c" stroke="#1c1c1c" stroke-width="1"/>
<line x1="641.6" y1="231.8" x2="641.6" y2="248.8" stroke="#1c1c1c" stroke-width="1.1"/>
<line x1="636.35" y1="231.8" x2="646.85" y2="231.8" stroke="#1c1c1c" stroke-width="1.1"/>
<line x1="636.35" y1="248.8" x2="646.85" y2="248.8" stroke="#1c1c1c" stroke-width="1.1"/>
<circle cx="637.6" cy="235.6" r="2.05" fill="#58b183" stroke="#1c1c1c" stroke-width="1"/>
<circle cx="645.7" cy="235.6" r="2.05" fill="#58b183" stroke="#1c1c1c" stroke-width="1"/>
<circle cx="641.8" cy="249.6" r="2.05" fill="#58b183" stroke="#1c1c1c" stroke-width="1"/>
<path d="M577.5 250.4 V242 H609.5 V250.4" stroke="#1c1c1c" stroke-width="1.1" fill="none"/>
<text x="593.5" y="238.92" font-size="9.5" text-anchor="middle" font-weight="bold" fill="#000">0.7035</text>
<path d="M609.3 226.6 V217.7 H641.6 V226.6" stroke="#1c1c1c" stroke-width="1.1" fill="none"/>
<text x="625.45" y="213.72" font-size="9.5" text-anchor="middle" font-weight="bold" fill="#000">&lt; 0.0001</text>
<text x="0.3" y="381.11" font-size="14.2" text-anchor="start" font-weight="bold" fill="#000">(E)</text>
<text x="45.7" y="383.29" font-size="10.8" text-anchor="middle" font-weight="bold" fill="#000">pcDNA</text>
<text x="75.5" y="383.29" font-size="10.8" text-anchor="start" font-weight="bold" fill="#000">CuCl<tspan font-size="7.5" dy="2.2">2</tspan><tspan dy="-2.2"> (&#956;M)</tspan></text>
<rect x="40.7" y="412.3" width="125.7" height="74" fill="#fff" stroke="#333" stroke-width="1.1"/>
<rect x="42.8" y="413.7" width="21.8" height="21.8" fill="#c8c9e6" stroke="none" stroke-width="0"/>
<rect x="67.85" y="413.7" width="21.8" height="21.8" fill="#c4c5e4" stroke="none" stroke-width="0"/>
<rect x="92.9" y="413.7" width="21.8" height="21.8" fill="#cacbe7" stroke="none" stroke-width="0"/>
<rect x="117.95" y="413.7" width="21.8" height="21.8" fill="#8f92c8" stroke="none" stroke-width="0"/>
<rect x="143" y="413.7" width="21.8" height="21.8" fill="#8185c4" stroke="none" stroke-width="0"/>
<rect x="42.8" y="438.75" width="21.8" height="21.8" fill="#d3d4ec" stroke="none" stroke-width="0"/>
<rect x="67.85" y="438.75" width="21.8" height="21.8" fill="#8a8fc8" stroke="none" stroke-width="0"/>
<rect x="92.9" y="438.75" width="21.8" height="21.8" fill="#8287c5" stroke="none" stroke-width="0"/>
<rect x="117.95" y="438.75" width="21.8" height="21.8" fill="#7a80c1" stroke="none" stroke-width="0"/>
<rect x="143" y="438.75" width="21.8" height="21.8" fill="#6a71b9" stroke="none" stroke-width="0"/>
<rect x="42.8" y="463.8" width="21.8" height="21.8" fill="#d1d2eb" stroke="none" stroke-width="0"/>
<rect x="67.85" y="463.8" width="21.8" height="21.8" fill="#5d65b1" stroke="none" stroke-width="0"/>
<rect x="92.9" y="463.8" width="21.8" height="21.8" fill="#6068b3" stroke="none" stroke-width="0"/>
<rect x="117.95" y="463.8" width="21.8" height="21.8" fill="#5660ad" stroke="none" stroke-width="0"/>
<rect x="143" y="463.8" width="21.8" height="21.8" fill="#525cab" stroke="none" stroke-width="0"/>
<line x1="53.7" y1="406.3" x2="53.7" y2="412.3" stroke="#1c1c1c" stroke-width="1.1"/>
<text x="53.7" y="403.29" font-size="10.8" text-anchor="middle" font-weight="bold" fill="#000">0</text>
<line x1="78.75" y1="406.3" x2="78.75" y2="412.3" stroke="#1c1c1c" stroke-width="1.1"/>
<text x="78.75" y="403.29" font-size="10.8" text-anchor="middle" font-weight="bold" fill="#000">50</text>
<line x1="103.8" y1="406.3" x2="103.8" y2="412.3" stroke="#1c1c1c" stroke-width="1.1"/>
<text x="103.8" y="403.29" font-size="10.8" text-anchor="middle" font-weight="bold" fill="#000">100</text>
<line x1="128.85" y1="406.3" x2="128.85" y2="412.3" stroke="#1c1c1c" stroke-width="1.1"/>
<text x="128.85" y="403.29" font-size="10.8" text-anchor="middle" font-weight="bold" fill="#000">150</text>
<line x1="153.9" y1="406.3" x2="153.9" y2="412.3" stroke="#1c1c1c" stroke-width="1.1"/>
<text x="153.9" y="403.29" font-size="10.8" text-anchor="middle" font-weight="bold" fill="#000">200</text>
<line x1="35.2" y1="424.6" x2="40.7" y2="424.6" stroke="#1c1c1c" stroke-width="1.1"/>
<text x="33.3" y="428.49" font-size="10.8" text-anchor="end" font-weight="bold" fill="#000">0</text>
<line x1="35.2" y1="449.65" x2="40.7" y2="449.65" stroke="#1c1c1c" stroke-width="1.1"/>
<text x="33.3" y="453.54" font-size="10.8" text-anchor="end" font-weight="bold" fill="#000">10</text>
<line x1="35.2" y1="474.7" x2="40.7" y2="474.7" stroke="#1c1c1c" stroke-width="1.1"/>
<text x="33.3" y="478.59" font-size="10.8" text-anchor="end" font-weight="bold" fill="#000">20</text>
<text transform="translate(11.1,451.5) rotate(-90)" x="0" y="3.96" font-size="11" text-anchor="middle" font-weight="bold" fill="#000">Elesclomol (nM)</text>
<text x="103.55" y="503.52" font-size="10.9" text-anchor="middle" font-weight="bold" fill="#000">Fold viability</text>
<rect x="40.7" y="511.6" width="125.7" height="10.8" fill="url(#g3)" stroke="#333" stroke-width="1.1"/>
<line x1="63.5" y1="511.6" x2="63.5" y2="522.4" stroke="#222" stroke-width="1.1" stroke-dasharray="4.1 2.59"/>
<line x1="86.5" y1="511.6" x2="86.5" y2="522.4" stroke="#222" stroke-width="1.1" stroke-dasharray="4.1 2.59"/>
<line x1="109.3" y1="511.6" x2="109.3" y2="522.4" stroke="#222" stroke-width="1.1" stroke-dasharray="4.1 2.59"/>
<line x1="131.8" y1="511.6" x2="131.8" y2="522.4" stroke="#222" stroke-width="1.1" stroke-dasharray="4.1 2.59"/>
<line x1="154.4" y1="511.6" x2="154.4" y2="522.4" stroke="#222" stroke-width="1.1" stroke-dasharray="4.1 2.59"/>
<text x="41.2" y="540.79" font-size="10.8" text-anchor="middle" font-weight="bold" fill="#000">0</text>
<text x="63.6" y="540.79" font-size="10.8" text-anchor="middle" font-weight="bold" fill="#000">0.5</text>
<text x="86.6" y="540.79" font-size="10.8" text-anchor="middle" font-weight="bold" fill="#000">1.0</text>
<text x="109.6" y="540.79" font-size="10.8" text-anchor="middle" font-weight="bold" fill="#000">1.5</text>
<text x="131.9" y="540.79" font-size="10.8" text-anchor="middle" font-weight="bold" fill="#000">2.0</text>
<text x="154.5" y="540.79" font-size="10.8" text-anchor="middle" font-weight="bold" fill="#000">2.5</text>
<text x="214" y="384.29" font-size="10.8" text-anchor="middle" font-weight="bold" fill="#000">OE-FDX1</text>
<text x="260.4" y="384.29" font-size="10.8" text-anchor="start" font-weight="bold" fill="#000">CuCl<tspan font-size="7.5" dy="2.2">2</tspan><tspan dy="-2.2"> (&#956;M)</tspan></text>
<rect x="225.1" y="412.3" width="125.7" height="74.7" fill="#fff" stroke="#333" stroke-width="1.1"/>
<rect x="226.7" y="413.9" width="22.2" height="22" fill="#e57c87" stroke="none" stroke-width="0"/>
<rect x="251.8" y="413.9" width="22.2" height="22" fill="#e98b93" stroke="none" stroke-width="0"/>
<rect x="276.9" y="413.9" width="22.2" height="22" fill="#f3cdd1" stroke="none" stroke-width="0"/>
<rect x="302" y="413.9" width="22.2" height="22" fill="#afb1da" stroke="none" stroke-width="0"/>
<rect x="327.1" y="413.9" width="22.2" height="22" fill="#b8badf" stroke="none" stroke-width="0"/>
<rect x="226.7" y="438.85" width="22.2" height="22" fill="#e5717c" stroke="none" stroke-width="0"/>
<rect x="251.8" y="438.85" width="22.2" height="22" fill="#abaed8" stroke="none" stroke-width="0"/>
<rect x="276.9" y="438.85" width="22.2" height="22" fill="#9699cc" stroke="none" stroke-width="0"/>
<rect x="302" y="438.85" width="22.2" height="22" fill="#7177bc" stroke="none" stroke-width="0"/>
<rect x="327.1" y="438.85" width="22.2" height="22" fill="#5d66b2" stroke="none" stroke-width="0"/>
<rect x="226.7" y="463.8" width="22.2" height="22" fill="#e57884" stroke="none" stroke-width="0"/>
<rect x="251.8" y="463.8" width="22.2" height="22" fill="#6a72b8" stroke="none" stroke-width="0"/>
<rect x="276.9" y="463.8" width="22.2" height="22" fill="#6a72b8" stroke="none" stroke-width="0"/>
<rect x="302" y="463.8" width="22.2" height="22" fill="#5f68b3" stroke="none" stroke-width="0"/>
<rect x="327.1" y="463.8" width="22.2" height="22" fill="#5962ae" stroke="none" stroke-width="0"/>
<line x1="237.8" y1="406.3" x2="237.8" y2="412.3" stroke="#1c1c1c" stroke-width="1.1"/>
<text x="237.8" y="403.29" font-size="10.8" text-anchor="middle" font-weight="bold" fill="#000">0</text>
<line x1="262.9" y1="406.3" x2="262.9" y2="412.3" stroke="#1c1c1c" stroke-width="1.1"/>
<text x="262.9" y="403.29" font-size="10.8" text-anchor="middle" font-weight="bold" fill="#000">50</text>
<line x1="288" y1="406.3" x2="288" y2="412.3" stroke="#1c1c1c" stroke-width="1.1"/>
<text x="288" y="403.29" font-size="10.8" text-anchor="middle" font-weight="bold" fill="#000">100</text>
<line x1="313.1" y1="406.3" x2="313.1" y2="412.3" stroke="#1c1c1c" stroke-width="1.1"/>
<text x="313.1" y="403.29" font-size="10.8" text-anchor="middle" font-weight="bold" fill="#000">150</text>
<line x1="338.2" y1="406.3" x2="338.2" y2="412.3" stroke="#1c1c1c" stroke-width="1.1"/>
<text x="338.2" y="403.29" font-size="10.8" text-anchor="middle" font-weight="bold" fill="#000">200</text>
<line x1="219.6" y1="424.9" x2="225.1" y2="424.9" stroke="#1c1c1c" stroke-width="1.1"/>
<text x="216.6" y="428.79" font-size="10.8" text-anchor="end" font-weight="bold" fill="#000">0</text>
<line x1="219.6" y1="449.85" x2="225.1" y2="449.85" stroke="#1c1c1c" stroke-width="1.1"/>
<text x="216.6" y="453.74" font-size="10.8" text-anchor="end" font-weight="bold" fill="#000">10</text>
<line x1="219.6" y1="474.8" x2="225.1" y2="474.8" stroke="#1c1c1c" stroke-width="1.1"/>
<text x="216.6" y="478.69" font-size="10.8" text-anchor="end" font-weight="bold" fill="#000">20</text>
<text transform="translate(193.2,451.85) rotate(-90)" x="0" y="3.96" font-size="11" text-anchor="middle" font-weight="bold" fill="#000">Elesclomol (nM)</text>
<text x="287.95" y="503.52" font-size="10.9" text-anchor="middle" font-weight="bold" fill="#000">Fold viability</text>
<rect x="225.1" y="512" width="125.7" height="10.6" fill="url(#g4)" stroke="#333" stroke-width="1.1"/>
<line x1="248" y1="512" x2="248" y2="522.6" stroke="#222" stroke-width="1.1" stroke-dasharray="4.03 2.54"/>
<line x1="270.7" y1="512" x2="270.7" y2="522.6" stroke="#222" stroke-width="1.1" stroke-dasharray="4.03 2.54"/>
<line x1="293.6" y1="512" x2="293.6" y2="522.6" stroke="#222" stroke-width="1.1" stroke-dasharray="4.03 2.54"/>
<line x1="316.7" y1="512" x2="316.7" y2="522.6" stroke="#222" stroke-width="1.1" stroke-dasharray="4.03 2.54"/>
<line x1="339.6" y1="512" x2="339.6" y2="522.6" stroke="#222" stroke-width="1.1" stroke-dasharray="4.03 2.54"/>
<text x="225.3" y="540.89" font-size="10.8" text-anchor="middle" font-weight="bold" fill="#000">0</text>
<text x="248" y="540.89" font-size="10.8" text-anchor="middle" font-weight="bold" fill="#000">0.5</text>
<text x="270.8" y="540.89" font-size="10.8" text-anchor="middle" font-weight="bold" fill="#000">1.0</text>
<text x="293.6" y="540.89" font-size="10.8" text-anchor="middle" font-weight="bold" fill="#000">1.5</text>
<text x="316.7" y="540.89" font-size="10.8" text-anchor="middle" font-weight="bold" fill="#000">2.0</text>
<text x="339.6" y="540.89" font-size="10.8" text-anchor="middle" font-weight="bold" fill="#000">2.5</text>
<line x1="407" y1="408.65" x2="407" y2="515.95" stroke="#1c1c1c" stroke-width="1.1"/>
<line x1="400" y1="408.65" x2="407" y2="408.65" stroke="#1c1c1c" stroke-width="1.1"/>
<text x="397.5" y="412.54" font-size="10.8" text-anchor="end" font-weight="bold" fill="#000">1.0</text>
<line x1="400" y1="430" x2="407" y2="430" stroke="#1c1c1c" stroke-width="1.1"/>
<text x="397.5" y="433.89" font-size="10.8" text-anchor="end" font-weight="bold" fill="#000">0.8</text>
<line x1="400" y1="451.35" x2="407" y2="451.35" stroke="#1c1c1c" stroke-width="1.1"/>
<text x="397.5" y="455.24" font-size="10.8" text-anchor="end" font-weight="bold" fill="#000">0.6</text>
<line x1="400" y1="472.7" x2="407" y2="472.7" stroke="#1c1c1c" stroke-width="1.1"/>
<text x="397.5" y="476.59" font-size="10.8" text-anchor="end" font-weight="bold" fill="#000">0.4</text>
<line x1="400" y1="494.05" x2="407" y2="494.05" stroke="#1c1c1c" stroke-width="1.1"/>
<text x="397.5" y="497.94" font-size="10.8" text-anchor="end" font-weight="bold" fill="#000">0.2</text>
<line x1="400" y1="515.4" x2="407" y2="515.4" stroke="#1c1c1c" stroke-width="1.1"/>
<text x="397.5" y="519.29" font-size="10.8" text-anchor="end" font-weight="bold" fill="#000">0.0</text>
<text transform="translate(370.2,463.62) rotate(-90)" x="0" y="3.89" font-size="10.8" text-anchor="middle" font-weight="bold" fill="#000">Fold viability</text>
<rect x="417.4" y="458.2" width="19.2" height="57.2" fill="#5c93cf" stroke="#1c1c1c" stroke-width="1.25"/>
<rect x="456.3" y="428.2" width="19.2" height="87.2" fill="url(#hatch)" stroke="#1c1c1c" stroke-width="1.25"/>
<line x1="406.45" y1="515.4" x2="486.5" y2="515.4" stroke="#1c1c1c" stroke-width="1.1"/>
<line x1="427" y1="515.4" x2="427" y2="521.4" stroke="#1c1c1c" stroke-width="1.1"/>
<line x1="465.9" y1="515.4" x2="465.9" y2="521.4" stroke="#1c1c1c" stroke-width="1.1"/>
<text x="423.5" y="536.19" font-size="10.8" text-anchor="middle" font-weight="bold" fill="#000">pcDNA</text>
<text x="470.2" y="536.19" font-size="10.8" text-anchor="middle" font-weight="bold" fill="#000">OE-FDX1</text>
<line x1="427" y1="452.5" x2="427" y2="463.9" stroke="#1c1c1c" stroke-width="1.1"/>
<line x1="422.25" y1="452.5" x2="431.75" y2="452.5" stroke="#1c1c1c" stroke-width="1.1"/>
<line x1="422.25" y1="463.9" x2="431.75" y2="463.9" stroke="#1c1c1c" stroke-width="1.1"/>
<circle cx="422.5" cy="454.2" r="2.05" fill="#5c93cf" stroke="#1c1c1c" stroke-width="1"/>
<circle cx="431" cy="455.8" r="2.05" fill="#5c93cf" stroke="#1c1c1c" stroke-width="1"/>
<circle cx="426.6" cy="464.5" r="2.05" fill="#5c93cf" stroke="#1c1c1c" stroke-width="1"/>
<line x1="465.9" y1="423.3" x2="465.9" y2="430.2" stroke="#1c1c1c" stroke-width="1.1"/>
<line x1="461.15" y1="423.3" x2="470.65" y2="423.3" stroke="#1c1c1c" stroke-width="1.1"/>
<line x1="461.15" y1="430.2" x2="470.65" y2="430.2" stroke="#1c1c1c" stroke-width="1.1"/>
<circle cx="466" cy="423" r="2.05" fill="#ebae6c" stroke="#1c1c1c" stroke-width="1"/>
<circle cx="462.1" cy="431.8" r="2.05" fill="#ebae6c" stroke="#1c1c1c" stroke-width="1"/>
<circle cx="470.1" cy="429" r="2.05" fill="#ebae6c" stroke="#1c1c1c" stroke-width="1"/>
<path d="M427 440.6 V398.9 H465.9 V410.5" stroke="#1c1c1c" stroke-width="1.1" fill="none"/>
<text x="446.45" y="393.22" font-size="9.5" text-anchor="middle" font-weight="bold" fill="#000">0.0019</text>
<text x="480.3" y="380.71" font-size="14.2" text-anchor="start" font-weight="bold" fill="#000">(F)</text>
<text x="510.3" y="380.39" font-size="10.8" text-anchor="start" font-weight="bold" fill="#000">CuCl<tspan font-size="7" dy="2.8">2</tspan><tspan dy="-2.8"> (&#956;M)</tspan></text>
<text x="540" y="402.09" font-size="10.8" text-anchor="middle" font-weight="bold" fill="#000">OE-FDX1</text>
<text x="572.5" y="380.99" font-size="10.8" text-anchor="middle" font-weight="bold" fill="#000">-</text>
<text x="598.2" y="380.99" font-size="10.8" text-anchor="middle" font-weight="bold" fill="#000">-</text>
<text x="625" y="380.99" font-size="10.8" text-anchor="middle" font-weight="bold" fill="#000">150</text>
<text x="651" y="380.99" font-size="10.8" text-anchor="middle" font-weight="bold" fill="#000">150</text>
<text x="572.5" y="402.09" font-size="10.8" text-anchor="middle" font-weight="bold" fill="#000">-</text>
<text x="598.2" y="402.09" font-size="10.8" text-anchor="middle" font-weight="bold" fill="#000">+</text>
<text x="624.3" y="402.09" font-size="10.8" text-anchor="middle" font-weight="bold" fill="#000">-</text>
<text x="650.4" y="402.09" font-size="10.8" text-anchor="middle" font-weight="bold" fill="#000">+</text>
<text x="673.5" y="402.09" font-size="10.8" text-anchor="middle" font-weight="bold" fill="#000">kDa</text>
<text x="523.4" y="426.89" font-size="10.8" text-anchor="middle" font-weight="bold" fill="#000">FDX1</text>
<text x="677.4" y="426.89" font-size="10.8" text-anchor="middle" font-weight="bold" fill="#000">13</text>
<rect x="557.2" y="413.2" width="107.5" height="17.1" fill="#f8f8f8" stroke="#333" stroke-width="1.1"/>
<text x="523.4" y="451.79" font-size="10.8" text-anchor="middle" font-weight="bold" fill="#000">DLAT</text>
<text x="677.4" y="451.79" font-size="10.8" text-anchor="middle" font-weight="bold" fill="#000">70</text>
<rect x="557.2" y="437.9" width="107.5" height="17.3" fill="#f8f8f8" stroke="#333" stroke-width="1.1"/>
<text x="523.4" y="476.39" font-size="10.8" text-anchor="middle" font-weight="bold" fill="#000">lipoy-DLAT</text>
<text x="677.4" y="476.39" font-size="10.8" text-anchor="middle" font-weight="bold" fill="#000">70</text>
<rect x="557.2" y="462.4" width="107.5" height="17.6" fill="#d6d6d6" stroke="#333" stroke-width="1.1"/>
<text x="523.4" y="499.89" font-size="10.8" text-anchor="middle" font-weight="bold" fill="#000">LIAS</text>
<text x="677.4" y="499.89" font-size="10.8" text-anchor="middle" font-weight="bold" fill="#000">40</text>
<rect x="557.2" y="487.3" width="107.5" height="17.2" fill="#f8f8f8" stroke="#333" stroke-width="1.1"/>
<text x="523.4" y="524.79" font-size="10.8" text-anchor="middle" font-weight="bold" fill="#000">DLST</text>
<text x="677.4" y="524.79" font-size="10.8" text-anchor="middle" font-weight="bold" fill="#000">49</text>
<rect x="557.2" y="512.3" width="107.5" height="17.2" fill="#f8f8f8" stroke="#333" stroke-width="1.1"/>
<text x="523.4" y="549.79" font-size="10.8" text-anchor="middle" font-weight="bold" fill="#000">&#946;-Actin</text>
<text x="677.4" y="549.79" font-size="10.8" text-anchor="middle" font-weight="bold" fill="#000">42</text>
<rect x="557.2" y="537.4" width="107.5" height="17" fill="#f8f8f8" stroke="#333" stroke-width="1.1"/>
<rect x="561.5" y="419.5" width="22" height="4.8" rx="1.6" fill="#000" opacity="1" filter="url(#blur1)"/>
<rect x="587.5" y="419.1" width="21.3" height="5.6" rx="1.6" fill="#000" opacity="1" filter="url(#blur1)"/>
<rect x="613.8" y="420.7" width="20" height="2.4" rx="1.2" fill="#000" opacity="0.75" filter="url(#blur1)"/>
<rect x="639.6" y="419.9" width="21" height="4" rx="1.6" fill="#000" opacity="1" filter="url(#blur1)"/>
<rect x="613.8" y="419.65" width="20" height="4.5" rx="1.6" fill="#777" opacity="0.15" filter="url(#blur1)"/>
<rect x="562.3" y="445.5" width="20.7" height="4.2" rx="1.6" fill="#000" opacity="1" filter="url(#blur1)"/>
<rect x="588.3" y="445.5" width="20" height="4.2" rx="1.6" fill="#000" opacity="1" filter="url(#blur1)"/>
<rect x="614.6" y="445.5" width="18.7" height="4.2" rx="1.6" fill="#000" opacity="1" filter="url(#blur1)"/>
<rect x="640.4" y="445.5" width="19.7" height="4.2" rx="1.6" fill="#000" opacity="1" filter="url(#blur1)"/>
<g filter="url(#blur2)">
<rect x="558" y="463.2" width="106" height="4" fill="#fff" opacity="0.25"/>
<rect x="558" y="474.5" width="106" height="4" fill="#fff" opacity="0.25"/>
<rect x="557.5" y="470.0" width="26" height="2.6" fill="#333" opacity="0.9"/>
<rect x="585.5" y="470.0" width="24" height="2.6" fill="#333" opacity="0.95"/>
<rect x="612.5" y="470.0" width="23.5" height="2.6" fill="#333" opacity="0.3"/>
<rect x="638.5" y="470.0" width="25.5" height="2.6" fill="#333" opacity="0.6"/>
<rect x="581.15" y="463" width="4.5" height="16.5" fill="#333" opacity="0.55"/>
<rect x="607.55" y="463" width="5.5" height="16.5" fill="#333" opacity="0.85"/>
<rect x="635.25" y="463" width="4.5" height="16.5" fill="#333" opacity="0.55"/>
</g>
<rect x="563" y="493.4" width="19.3" height="4.8" rx="1.6" fill="#000" opacity="1" filter="url(#blur1)"/>
<rect x="563" y="501.1" width="19.3" height="1.6" rx="0.8" fill="#333" opacity="0.6" filter="url(#blur1)"/>
<rect x="589" y="493.4" width="18.6" height="4.8" rx="1.6" fill="#000" opacity="0.95" filter="url(#blur1)"/>
<rect x="590.5" y="495.3" width="15.3" height="0.9" fill="#888" opacity="0.6" filter="url(#blur0)"/>
<rect x="589" y="501.1" width="18.6" height="1.6" rx="0.8" fill="#333" opacity="0.6" filter="url(#blur1)"/>
<rect x="615.3" y="493.4" width="17.3" height="4.8" rx="1.6" fill="#000" opacity="0.95" filter="url(#blur1)"/>
<rect x="616.8" y="495.3" width="14" height="0.9" fill="#888" opacity="0.6" filter="url(#blur0)"/>
<rect x="615.3" y="501.1" width="17.3" height="1.6" rx="0.8" fill="#333" opacity="0.6" filter="url(#blur1)"/>
<rect x="641.1" y="493.4" width="18.3" height="4.8" rx="1.6" fill="#000" opacity="1" filter="url(#blur1)"/>
<rect x="642.6" y="495.3" width="15" height="0.9" fill="#888" opacity="0.6" filter="url(#blur0)"/>
<rect x="641.1" y="501.1" width="18.3" height="1.6" rx="0.8" fill="#333" opacity="0.6" filter="url(#blur1)"/>
<rect x="562.5" y="517.15" width="20" height="1.5" rx="0.75" fill="#333" opacity="0.66" filter="url(#blur0)"/>
<rect x="562.5" y="520.1" width="20" height="3" rx="1.5" fill="#000" opacity="0.95" filter="url(#blur1)"/>
<rect x="588.5" y="517.15" width="19.3" height="1.5" rx="0.75" fill="#333" opacity="0.63" filter="url(#blur0)"/>
<rect x="588.5" y="520.1" width="19.3" height="3" rx="1.5" fill="#000" opacity="0.9" filter="url(#blur1)"/>
<rect x="614.8" y="517.15" width="18" height="1.5" rx="0.75" fill="#333" opacity="0.39" filter="url(#blur0)"/>
<rect x="614.8" y="520.1" width="18" height="3" rx="1.5" fill="#000" opacity="0.55" filter="url(#blur1)"/>
<rect x="640.6" y="517.15" width="19" height="1.5" rx="0.75" fill="#333" opacity="0.28" filter="url(#blur0)"/>
<rect x="640.6" y="520.1" width="19" height="3" rx="1.5" fill="#000" opacity="0.4" filter="url(#blur1)"/>
<rect x="562.3" y="543.6" width="20" height="3.2" rx="1.6" fill="#000" opacity="1" filter="url(#blur1)"/>
<rect x="588.3" y="543.6" width="19.3" height="3.2" rx="1.6" fill="#000" opacity="1" filter="url(#blur1)"/>
<rect x="614.6" y="543.6" width="18" height="3.2" rx="1.6" fill="#000" opacity="1" filter="url(#blur1)"/>
<rect x="640.4" y="543.6" width="19" height="3.2" rx="1.6" fill="#000" opacity="1" filter="url(#blur1)"/>
<circle cx="300.4" cy="558.5" r="2.1" fill="#5c93cf" stroke="#1c1c1c" stroke-width="1"/>
<text x="312.6" y="561.88" font-size="9.4" text-anchor="start" font-weight="bold" fill="#000">pcDNA</text>
<circle cx="353.9" cy="558.5" r="2.1" fill="#ebae6c" stroke="#1c1c1c" stroke-width="1"/>
<text x="365.6" y="561.92" font-size="9.5" text-anchor="start" font-weight="bold" fill="#000">OE-FDX1</text>
<line x1="49.2" y1="605.75" x2="49.2" y2="712.95" stroke="#1c1c1c" stroke-width="1.1"/>
<line x1="41.2" y1="605.75" x2="49.2" y2="605.75" stroke="#1c1c1c" stroke-width="1.1"/>
<text x="38.7" y="609.53" font-size="10.5" text-anchor="end" font-weight="bold" fill="#000">1.5</text>
<line x1="41.2" y1="641.3" x2="49.2" y2="641.3" stroke="#1c1c1c" stroke-width="1.1"/>
<text x="38.7" y="645.08" font-size="10.5" text-anchor="end" font-weight="bold" fill="#000">1.0</text>
<line x1="41.2" y1="676.85" x2="49.2" y2="676.85" stroke="#1c1c1c" stroke-width="1.1"/>
<text x="38.7" y="680.63" font-size="10.5" text-anchor="end" font-weight="bold" fill="#000">0.5</text>
<line x1="41.2" y1="712.4" x2="49.2" y2="712.4" stroke="#1c1c1c" stroke-width="1.1"/>
<text x="38.7" y="716.18" font-size="10.5" text-anchor="end" font-weight="bold" fill="#000">0.0</text>
<text transform="translate(11.3,661.7) rotate(-90)" x="0" y="3.89" font-size="10.8" text-anchor="middle" font-weight="bold" fill="#000">Rel. FDX1 protein levels</text>
<rect x="55.35" y="641.4" width="12.3" height="71" fill="#5c93cf" stroke="#1c1c1c" stroke-width="1.25"/>
<rect x="71.35" y="628.2" width="12.3" height="84.2" fill="url(#hatch)" stroke="#1c1c1c" stroke-width="1.25"/>
<rect x="93.45" y="668.1" width="12.3" height="44.3" fill="#5c93cf" stroke="#1c1c1c" stroke-width="1.25"/>
<rect x="109.35" y="641.8" width="12.3" height="70.6" fill="url(#hatch)" stroke="#1c1c1c" stroke-width="1.25"/>
<line x1="48.65" y1="712.4" x2="128" y2="712.4" stroke="#1c1c1c" stroke-width="1.1"/>
<line x1="69.5" y1="712.4" x2="69.5" y2="720.4" stroke="#1c1c1c" stroke-width="1.1"/>
<line x1="107.5" y1="712.4" x2="107.5" y2="720.4" stroke="#1c1c1c" stroke-width="1.1"/>
<text x="68" y="733.42" font-size="10.9" text-anchor="middle" font-weight="bold" fill="#000">control</text>
<text x="105.7" y="733.42" font-size="10.9" text-anchor="middle" font-weight="bold" fill="#000">Cu-ES</text>
<line x1="77.4" y1="616.4" x2="77.4" y2="638.1" stroke="#1c1c1c" stroke-width="1.1"/>
<line x1="74" y1="616.4" x2="80.8" y2="616.4" stroke="#1c1c1c" stroke-width="1.1"/>
<line x1="74" y1="638.1" x2="80.8" y2="638.1" stroke="#1c1c1c" stroke-width="1.1"/>
<line x1="99.5" y1="653.9" x2="99.5" y2="681.5" stroke="#1c1c1c" stroke-width="1.1"/>
<line x1="96.1" y1="653.9" x2="102.9" y2="653.9" stroke="#1c1c1c" stroke-width="1.1"/>
<line x1="96.1" y1="681.5" x2="102.9" y2="681.5" stroke="#1c1c1c" stroke-width="1.1"/>
<line x1="114.9" y1="629.2" x2="114.9" y2="655.2" stroke="#1c1c1c" stroke-width="1.1"/>
<line x1="111.5" y1="629.2" x2="118.3" y2="629.2" stroke="#1c1c1c" stroke-width="1.1"/>
<line x1="111.5" y1="655.2" x2="118.3" y2="655.2" stroke="#1c1c1c" stroke-width="1.1"/>
<circle cx="57.1" cy="641.4" r="2.05" fill="#5c93cf" stroke="#1c1c1c" stroke-width="1"/>
<circle cx="61.4" cy="641.4" r="2.05" fill="#5c93cf" stroke="#1c1c1c" stroke-width="1"/>
<circle cx="65.9" cy="641.4" r="2.05" fill="#5c93cf" stroke="#1c1c1c" stroke-width="1"/>
<circle cx="77.4" cy="616.4" r="2.05" fill="#ebae6c" stroke="#1c1c1c" stroke-width="1"/>
<circle cx="73.1" cy="634.2" r="2.05" fill="#ebae6c" stroke="#1c1c1c" stroke-width="1"/>
<circle cx="81.8" cy="632.8" r="2.05" fill="#ebae6c" stroke="#1c1c1c" stroke-width="1"/>
<circle cx="99.5" cy="653.9" r="2.05" fill="#5c93cf" stroke="#1c1c1c" stroke-width="1"/>
<circle cx="99.5" cy="667.7" r="2.05" fill="#5c93cf" stroke="#1c1c1c" stroke-width="1"/>
<circle cx="99.5" cy="681.5" r="2.05" fill="#5c93cf" stroke="#1c1c1c" stroke-width="1"/>
<circle cx="114.9" cy="629.2" r="2.05" fill="#ebae6c" stroke="#1c1c1c" stroke-width="1"/>
<circle cx="114.9" cy="640.1" r="2.05" fill="#ebae6c" stroke="#1c1c1c" stroke-width="1"/>
<circle cx="114.9" cy="655.2" r="2.05" fill="#ebae6c" stroke="#1c1c1c" stroke-width="1"/>
<path d="M61.4 629.4 V583.7 H99.5 V595.2" stroke="#1c1c1c" stroke-width="1.1" fill="none"/>
<text x="80.45" y="577.62" font-size="9.5" text-anchor="middle" font-weight="bold" fill="#000">0.0312</text>
<path d="M99.5 642.5 V611.6 H115.2 V616.8" stroke="#1c1c1c" stroke-width="1.1" fill="none"/>
<text x="107.35" y="606.32" font-size="9.5" text-anchor="middle" font-weight="bold" fill="#000">0.0312</text>
<line x1="184.9" y1="605.75" x2="184.9" y2="712.95" stroke="#1c1c1c" stroke-width="1.1"/>
<line x1="176.9" y1="605.75" x2="184.9" y2="605.75" stroke="#1c1c1c" stroke-width="1.1"/>
<text x="174.4" y="609.53" font-size="10.5" text-anchor="end" font-weight="bold" fill="#000">1.5</text>
<line x1="176.9" y1="641.3" x2="184.9" y2="641.3" stroke="#1c1c1c" stroke-width="1.1"/>
<text x="174.4" y="645.08" font-size="10.5" text-anchor="end" font-weight="bold" fill="#000">1.0</text>
<line x1="176.9" y1="676.85" x2="184.9" y2="676.85" stroke="#1c1c1c" stroke-width="1.1"/>
<text x="174.4" y="680.63" font-size="10.5" text-anchor="end" font-weight="bold" fill="#000">0.5</text>
<line x1="176.9" y1="712.4" x2="184.9" y2="712.4" stroke="#1c1c1c" stroke-width="1.1"/>
<text x="174.4" y="716.18" font-size="10.5" text-anchor="end" font-weight="bold" fill="#000">0.0</text>
<text transform="translate(148.5,661.7) rotate(-90)" x="0" y="3.89" font-size="10.8" text-anchor="middle" font-weight="bold" fill="#000">Rel. DLAT protein levels</text>
<rect x="191.25" y="641.4" width="12.3" height="71" fill="#5c93cf" stroke="#1c1c1c" stroke-width="1.25"/>
<rect x="207.15" y="651.2" width="12.3" height="61.2" fill="url(#hatch)" stroke="#1c1c1c" stroke-width="1.25"/>
<rect x="229.45" y="659.8" width="12.3" height="52.6" fill="#5c93cf" stroke="#1c1c1c" stroke-width="1.25"/>
<rect x="244.85" y="650.6" width="12.3" height="61.8" fill="url(#hatch)" stroke="#1c1c1c" stroke-width="1.25"/>
<line x1="184.35" y1="712.4" x2="263.9" y2="712.4" stroke="#1c1c1c" stroke-width="1.1"/>
<line x1="205" y1="712.4" x2="205" y2="720.4" stroke="#1c1c1c" stroke-width="1.1"/>
<line x1="243" y1="712.4" x2="243" y2="720.4" stroke="#1c1c1c" stroke-width="1.1"/>
<text x="205" y="733.42" font-size="10.9" text-anchor="middle" font-weight="bold" fill="#000">control</text>
<text x="243.5" y="733.42" font-size="10.9" text-anchor="middle" font-weight="bold" fill="#000">Cu-ES</text>
<line x1="212.8" y1="644.7" x2="212.8" y2="656.2" stroke="#1c1c1c" stroke-width="1.1"/>
<line x1="209.4" y1="644.7" x2="216.2" y2="644.7" stroke="#1c1c1c" stroke-width="1.1"/>
<line x1="209.4" y1="656.2" x2="216.2" y2="656.2" stroke="#1c1c1c" stroke-width="1.1"/>
<line x1="235.2" y1="657.2" x2="235.2" y2="661.1" stroke="#1c1c1c" stroke-width="1.1"/>
<line x1="231.8" y1="657.2" x2="238.6" y2="657.2" stroke="#1c1c1c" stroke-width="1.1"/>
<line x1="231.8" y1="661.1" x2="238.6" y2="661.1" stroke="#1c1c1c" stroke-width="1.1"/>
<circle cx="192.9" cy="641.4" r="2.05" fill="#5c93cf" stroke="#1c1c1c" stroke-width="1"/>
<circle cx="197.3" cy="641.4" r="2.05" fill="#5c93cf" stroke="#1c1c1c" stroke-width="1"/>
<circle cx="201.7" cy="641.4" r="2.05" fill="#5c93cf" stroke="#1c1c1c" stroke-width="1"/>
<circle cx="212.8" cy="644.7" r="2.05" fill="#ebae6c" stroke="#1c1c1c" stroke-width="1"/>
<circle cx="208.9" cy="655.4" r="2.05" fill="#ebae6c" stroke="#1c1c1c" stroke-width="1"/>
<circle cx="217.4" cy="652.2" r="2.05" fill="#ebae6c" stroke="#1c1c1c" stroke-width="1"/>
<circle cx="231" cy="656.2" r="2.05" fill="#5c93cf" stroke="#1c1c1c" stroke-width="1"/>
<circle cx="231" cy="661.1" r="2.05" fill="#5c93cf" stroke="#1c1c1c" stroke-width="1"/>
<circle cx="239.5" cy="660.2" r="2.05" fill="#5c93cf" stroke="#1c1c1c" stroke-width="1"/>
<circle cx="246.6" cy="651.6" r="2.05" fill="#ebae6c" stroke="#1c1c1c" stroke-width="1"/>
<circle cx="251" cy="649.3" r="2.05" fill="#ebae6c" stroke="#1c1c1c" stroke-width="1"/>
<circle cx="255.3" cy="651.2" r="2.05" fill="#ebae6c" stroke="#1c1c1c" stroke-width="1"/>
<path d="M197.1 629.4 V584.4 H235.2 V596.7" stroke="#1c1c1c" stroke-width="1.1" fill="none"/>
<text x="216.15" y="578.82" font-size="9.5" text-anchor="middle" font-weight="bold" fill="#000">0.0002</text>
<path d="M235.2 644.7 V617.5 H251 V637.4" stroke="#1c1c1c" stroke-width="1.1" fill="none"/>
<text x="243.1" y="611.62" font-size="9.5" text-anchor="middle" font-weight="bold" fill="#000">0.0179</text>
<line x1="330.5" y1="605.75" x2="330.5" y2="712.95" stroke="#1c1c1c" stroke-width="1.1"/>
<line x1="322.5" y1="605.75" x2="330.5" y2="605.75" stroke="#1c1c1c" stroke-width="1.1"/>
<text x="320" y="609.53" font-size="10.5" text-anchor="end" font-weight="bold" fill="#000">1.5</text>
<line x1="322.5" y1="641.3" x2="330.5" y2="641.3" stroke="#1c1c1c" stroke-width="1.1"/>
<text x="320" y="645.08" font-size="10.5" text-anchor="end" font-weight="bold" fill="#000">1.0</text>
<line x1="322.5" y1="676.85" x2="330.5" y2="676.85" stroke="#1c1c1c" stroke-width="1.1"/>
<text x="320" y="680.63" font-size="10.5" text-anchor="end" font-weight="bold" fill="#000">0.5</text>
<line x1="322.5" y1="712.4" x2="330.5" y2="712.4" stroke="#1c1c1c" stroke-width="1.1"/>
<text x="320" y="716.18" font-size="10.5" text-anchor="end" font-weight="bold" fill="#000">0.0</text>
<text transform="translate(284.7,659.5) rotate(-90)" x="0" y="3.89" font-size="10.8" text-anchor="middle" font-weight="bold" fill="#000">Rel. lipoy-DLAT</text>
<text transform="translate(298,659) rotate(-90)" x="0" y="3.89" font-size="10.8" text-anchor="middle" font-weight="bold" fill="#000">protein levels</text>
<rect x="337.35" y="641.4" width="12.3" height="71" fill="#5c93cf" stroke="#1c1c1c" stroke-width="1.25"/>
<rect x="352.85" y="639.4" width="12.3" height="73" fill="url(#hatch)" stroke="#1c1c1c" stroke-width="1.25"/>
<rect x="375.05" y="667" width="12.3" height="45.4" fill="#5c93cf" stroke="#1c1c1c" stroke-width="1.25"/>
<rect x="390.45" y="650.6" width="12.3" height="61.8" fill="url(#hatch)" stroke="#1c1c1c" stroke-width="1.25"/>
<line x1="329.95" y1="712.4" x2="406.3" y2="712.4" stroke="#1c1c1c" stroke-width="1.1"/>
<line x1="351.2" y1="712.4" x2="351.2" y2="720.4" stroke="#1c1c1c" stroke-width="1.1"/>
<line x1="388.9" y1="712.4" x2="388.9" y2="720.4" stroke="#1c1c1c" stroke-width="1.1"/>
<text x="350.5" y="733.42" font-size="10.9" text-anchor="middle" font-weight="bold" fill="#000">control</text>
<text x="388.5" y="733.42" font-size="10.9" text-anchor="middle" font-weight="bold" fill="#000">Cu-ES</text>
<line x1="358.9" y1="625.2" x2="358.9" y2="651.2" stroke="#1c1c1c" stroke-width="1.1"/>
<line x1="355.5" y1="625.2" x2="362.3" y2="625.2" stroke="#1c1c1c" stroke-width="1.1"/>
<line x1="355.5" y1="651.2" x2="362.3" y2="651.2" stroke="#1c1c1c" stroke-width="1.1"/>
<line x1="380.8" y1="663.1" x2="380.8" y2="666.4" stroke="#1c1c1c" stroke-width="1.1"/>
<line x1="375.8" y1="663.1" x2="385.8" y2="663.1" stroke="#1c1c1c" stroke-width="1.1"/>
<line x1="375.8" y1="666.4" x2="385.8" y2="666.4" stroke="#1c1c1c" stroke-width="1.1"/>
<line x1="396.6" y1="645.3" x2="396.6" y2="651.6" stroke="#1c1c1c" stroke-width="1.1"/>
<line x1="393.2" y1="645.3" x2="400" y2="645.3" stroke="#1c1c1c" stroke-width="1.1"/>
<line x1="393.2" y1="651.6" x2="400" y2="651.6" stroke="#1c1c1c" stroke-width="1.1"/>
<circle cx="338.8" cy="641.4" r="2.05" fill="#5c93cf" stroke="#1c1c1c" stroke-width="1"/>
<circle cx="343.4" cy="641.4" r="2.05" fill="#5c93cf" stroke="#1c1c1c" stroke-width="1"/>
<circle cx="347.6" cy="641.4" r="2.05" fill="#5c93cf" stroke="#1c1c1c" stroke-width="1"/>
<circle cx="358.9" cy="625.2" r="2.05" fill="#ebae6c" stroke="#1c1c1c" stroke-width="1"/>
<circle cx="358.9" cy="640.7" r="2.05" fill="#ebae6c" stroke="#1c1c1c" stroke-width="1"/>
<circle cx="358.9" cy="651.2" r="2.05" fill="#ebae6c" stroke="#1c1c1c" stroke-width="1"/>
<circle cx="376.6" cy="664.4" r="2.05" fill="#5c93cf" stroke="#1c1c1c" stroke-width="1"/>
<circle cx="385.4" cy="664.6" r="2.05" fill="#5c93cf" stroke="#1c1c1c" stroke-width="1"/>
<circle cx="380.8" cy="672.3" r="2.05" fill="#5c93cf" stroke="#1c1c1c" stroke-width="1"/>
<circle cx="396.6" cy="645.3" r="2.05" fill="#ebae6c" stroke="#1c1c1c" stroke-width="1"/>
<circle cx="392.3" cy="652.3" r="2.05" fill="#ebae6c" stroke="#1c1c1c" stroke-width="1"/>
<circle cx="400.9" cy="649.9" r="2.05" fill="#ebae6c" stroke="#1c1c1c" stroke-width="1"/>
<path d="M343 629.4 V581.8 H380.8 V597.4" stroke="#1c1c1c" stroke-width="1.1" fill="none"/>
<text x="361.9" y="578.12" font-size="9.5" text-anchor="middle" font-weight="bold" fill="#000">0.0047</text>
<path d="M380.8 650.5 V614.5 H396.6 V633.5" stroke="#1c1c1c" stroke-width="1.1" fill="none"/>
<text x="388.7" y="610.22" font-size="9.5" text-anchor="middle" font-weight="bold" fill="#000">0.0310</text>
<line x1="468.2" y1="605.75" x2="468.2" y2="712.95" stroke="#1c1c1c" stroke-width="1.1"/>
<line x1="460.2" y1="605.75" x2="468.2" y2="605.75" stroke="#1c1c1c" stroke-width="1.1"/>
<text x="457.7" y="609.53" font-size="10.5" text-anchor="end" font-weight="bold" fill="#000">1.5</text>
<line x1="460.2" y1="641.3" x2="468.2" y2="641.3" stroke="#1c1c1c" stroke-width="1.1"/>
<text x="457.7" y="645.08" font-size="10.5" text-anchor="end" font-weight="bold" fill="#000">1.0</text>
<line x1="460.2" y1="676.85" x2="468.2" y2="676.85" stroke="#1c1c1c" stroke-width="1.1"/>
<text x="457.7" y="680.63" font-size="10.5" text-anchor="end" font-weight="bold" fill="#000">0.5</text>
<line x1="460.2" y1="712.4" x2="468.2" y2="712.4" stroke="#1c1c1c" stroke-width="1.1"/>
<text x="457.7" y="716.18" font-size="10.5" text-anchor="end" font-weight="bold" fill="#000">0.0</text>
<text transform="translate(430.6,661.7) rotate(-90)" x="0" y="3.89" font-size="10.8" text-anchor="middle" font-weight="bold" fill="#000">Rel. LIAS protein levels</text>
<rect x="474.55" y="641.4" width="12.3" height="71" fill="#5c93cf" stroke="#1c1c1c" stroke-width="1.25"/>
<rect x="490.25" y="644.3" width="12.3" height="68.1" fill="url(#hatch)" stroke="#1c1c1c" stroke-width="1.25"/>
<rect x="512.35" y="673.3" width="12.3" height="39.1" fill="#5c93cf" stroke="#1c1c1c" stroke-width="1.25"/>
<rect x="528.35" y="651.2" width="12.3" height="61.2" fill="url(#hatch)" stroke="#1c1c1c" stroke-width="1.25"/>
<line x1="467.65" y1="712.4" x2="543.6" y2="712.4" stroke="#1c1c1c" stroke-width="1.1"/>
<line x1="488.5" y1="712.4" x2="488.5" y2="720.4" stroke="#1c1c1c" stroke-width="1.1"/>
<line x1="526.4" y1="712.4" x2="526.4" y2="720.4" stroke="#1c1c1c" stroke-width="1.1"/>
<text x="488" y="733.42" font-size="10.9" text-anchor="middle" font-weight="bold" fill="#000">control</text>
<text x="526.2" y="733.42" font-size="10.9" text-anchor="middle" font-weight="bold" fill="#000">Cu-ES</text>
<line x1="496.4" y1="637.4" x2="496.4" y2="648.6" stroke="#1c1c1c" stroke-width="1.1"/>
<line x1="493" y1="637.4" x2="499.8" y2="637.4" stroke="#1c1c1c" stroke-width="1.1"/>
<line x1="493" y1="648.6" x2="499.8" y2="648.6" stroke="#1c1c1c" stroke-width="1.1"/>
<line x1="518.5" y1="665.3" x2="518.5" y2="681.7" stroke="#1c1c1c" stroke-width="1.1"/>
<line x1="515.1" y1="665.3" x2="521.9" y2="665.3" stroke="#1c1c1c" stroke-width="1.1"/>
<line x1="515.1" y1="681.7" x2="521.9" y2="681.7" stroke="#1c1c1c" stroke-width="1.1"/>
<line x1="534.3" y1="642.7" x2="534.3" y2="660.7" stroke="#1c1c1c" stroke-width="1.1"/>
<line x1="530.9" y1="642.7" x2="537.7" y2="642.7" stroke="#1c1c1c" stroke-width="1.1"/>
<line x1="530.9" y1="660.7" x2="537.7" y2="660.7" stroke="#1c1c1c" stroke-width="1.1"/>
<circle cx="476.5" cy="641.4" r="2.05" fill="#5c93cf" stroke="#1c1c1c" stroke-width="1"/>
<circle cx="480.8" cy="641.4" r="2.05" fill="#5c93cf" stroke="#1c1c1c" stroke-width="1"/>
<circle cx="485" cy="641.4" r="2.05" fill="#5c93cf" stroke="#1c1c1c" stroke-width="1"/>
<circle cx="496.4" cy="637.4" r="2.05" fill="#ebae6c" stroke="#1c1c1c" stroke-width="1"/>
<circle cx="496.4" cy="644.7" r="2.05" fill="#ebae6c" stroke="#1c1c1c" stroke-width="1"/>
<circle cx="496.4" cy="648.6" r="2.05" fill="#ebae6c" stroke="#1c1c1c" stroke-width="1"/>
<circle cx="514.2" cy="667.7" r="2.05" fill="#5c93cf" stroke="#1c1c1c" stroke-width="1"/>
<circle cx="522.8" cy="669.6" r="2.05" fill="#5c93cf" stroke="#1c1c1c" stroke-width="1"/>
<circle cx="518.5" cy="681.7" r="2.05" fill="#5c93cf" stroke="#1c1c1c" stroke-width="1"/>
<circle cx="530.1" cy="646.4" r="2.05" fill="#ebae6c" stroke="#1c1c1c" stroke-width="1"/>
<circle cx="538.9" cy="646.4" r="2.05" fill="#ebae6c" stroke="#1c1c1c" stroke-width="1"/>
<circle cx="534.3" cy="660.7" r="2.05" fill="#ebae6c" stroke="#1c1c1c" stroke-width="1"/>
<path d="M480.4 629.4 V581.3 H518.5 V592.5" stroke="#1c1c1c" stroke-width="1.1" fill="none"/>
<text x="499.45" y="574.82" font-size="9.5" text-anchor="middle" font-weight="bold" fill="#000">0.0005</text>
<path d="M518.5 653.6 V614.5 H534.3 V630.9" stroke="#1c1c1c" stroke-width="1.1" fill="none"/>
<text x="526.4" y="608.02" font-size="9.5" text-anchor="middle" font-weight="bold" fill="#000">0.0050</text>
<line x1="604.5" y1="605.75" x2="604.5" y2="712.95" stroke="#1c1c1c" stroke-width="1.1"/>
<line x1="596.5" y1="605.75" x2="604.5" y2="605.75" stroke="#1c1c1c" stroke-width="1.1"/>
<text x="594" y="609.53" font-size="10.5" text-anchor="end" font-weight="bold" fill="#000">1.5</text>
<line x1="596.5" y1="641.3" x2="604.5" y2="641.3" stroke="#1c1c1c" stroke-width="1.1"/>
<text x="594" y="645.08" font-size="10.5" text-anchor="end" font-weight="bold" fill="#000">1.0</text>
<line x1="596.5" y1="676.85" x2="604.5" y2="676.85" stroke="#1c1c1c" stroke-width="1.1"/>
<text x="594" y="680.63" font-size="10.5" text-anchor="end" font-weight="bold" fill="#000">0.5</text>
<line x1="596.5" y1="712.4" x2="604.5" y2="712.4" stroke="#1c1c1c" stroke-width="1.1"/>
<text x="594" y="716.18" font-size="10.5" text-anchor="end" font-weight="bold" fill="#000">0.0</text>
<text transform="translate(567,661.7) rotate(-90)" x="0" y="3.89" font-size="10.8" text-anchor="middle" font-weight="bold" fill="#000">Rel. DLST protein levels</text>
<rect x="611.25" y="641.4" width="12.3" height="71" fill="#5c93cf" stroke="#1c1c1c" stroke-width="1.25"/>
<rect x="626.95" y="645.3" width="12.3" height="67.1" fill="url(#hatch)" stroke="#1c1c1c" stroke-width="1.25"/>
<rect x="648.75" y="665.3" width="12.3" height="47.1" fill="#5c93cf" stroke="#1c1c1c" stroke-width="1.25"/>
<rect x="664.45" y="665.3" width="12.3" height="47.1" fill="url(#hatch)" stroke="#1c1c1c" stroke-width="1.25"/>
<line x1="603.95" y1="712.4" x2="683.1" y2="712.4" stroke="#1c1c1c" stroke-width="1.1"/>
<line x1="625.2" y1="712.4" x2="625.2" y2="720.4" stroke="#1c1c1c" stroke-width="1.1"/>
<line x1="662.8" y1="712.4" x2="662.8" y2="720.4" stroke="#1c1c1c" stroke-width="1.1"/>
<text x="624.5" y="733.42" font-size="10.9" text-anchor="middle" font-weight="bold" fill="#000">control</text>
<text x="663" y="733.42" font-size="10.9" text-anchor="middle" font-weight="bold" fill="#000">Cu-ES</text>
<line x1="633.1" y1="640.5" x2="633.1" y2="650.6" stroke="#1c1c1c" stroke-width="1.1"/>
<line x1="629.7" y1="640.5" x2="636.5" y2="640.5" stroke="#1c1c1c" stroke-width="1.1"/>
<line x1="629.7" y1="650.6" x2="636.5" y2="650.6" stroke="#1c1c1c" stroke-width="1.1"/>
<line x1="654.8" y1="656.5" x2="654.8" y2="674.2" stroke="#1c1c1c" stroke-width="1.1"/>
<line x1="651.4" y1="656.5" x2="658.2" y2="656.5" stroke="#1c1c1c" stroke-width="1.1"/>
<line x1="651.4" y1="674.2" x2="658.2" y2="674.2" stroke="#1c1c1c" stroke-width="1.1"/>
<line x1="670.5" y1="651" x2="670.5" y2="678.4" stroke="#1c1c1c" stroke-width="1.1"/>
<line x1="667.1" y1="651" x2="673.9" y2="651" stroke="#1c1c1c" stroke-width="1.1"/>
<line x1="667.1" y1="678.4" x2="673.9" y2="678.4" stroke="#1c1c1c" stroke-width="1.1"/>
<circle cx="613" cy="641.4" r="2.05" fill="#5c93cf" stroke="#1c1c1c" stroke-width="1"/>
<circle cx="617.3" cy="641.4" r="2.05" fill="#5c93cf" stroke="#1c1c1c" stroke-width="1"/>
<circle cx="621.7" cy="641.4" r="2.05" fill="#5c93cf" stroke="#1c1c1c" stroke-width="1"/>
<circle cx="628.5" cy="641.4" r="2.05" fill="#ebae6c" stroke="#1c1c1c" stroke-width="1"/>
<circle cx="637.3" cy="643.4" r="2.05" fill="#ebae6c" stroke="#1c1c1c" stroke-width="1"/>
<circle cx="633.1" cy="649.9" r="2.05" fill="#ebae6c" stroke="#1c1c1c" stroke-width="1"/>
<circle cx="650.4" cy="658.5" r="2.05" fill="#5c93cf" stroke="#1c1c1c" stroke-width="1"/>
<circle cx="659.4" cy="661.1" r="2.05" fill="#5c93cf" stroke="#1c1c1c" stroke-width="1"/>
<circle cx="654.8" cy="674.2" r="2.05" fill="#5c93cf" stroke="#1c1c1c" stroke-width="1"/>
<circle cx="670.5" cy="649.3" r="2.05" fill="#ebae6c" stroke="#1c1c1c" stroke-width="1"/>
<circle cx="666.6" cy="674.2" r="2.05" fill="#ebae6c" stroke="#1c1c1c" stroke-width="1"/>
<circle cx="674.8" cy="671.6" r="2.05" fill="#ebae6c" stroke="#1c1c1c" stroke-width="1"/>
<path d="M617.1 629.9 V583.7 H654.8 V595.5" stroke="#1c1c1c" stroke-width="1.1" fill="none"/>
<text x="635.95" y="578.12" font-size="9.5" text-anchor="middle" font-weight="bold" fill="#000">0.0178</text>
<path d="M654.8 644 V616.8 H670.5 V637.4" stroke="#1c1c1c" stroke-width="1.1" fill="none"/>
<text x="662.65" y="610.92" font-size="9.5" text-anchor="middle" font-weight="bold" fill="#000">0.9993</text>
</svg>
</body></html>
